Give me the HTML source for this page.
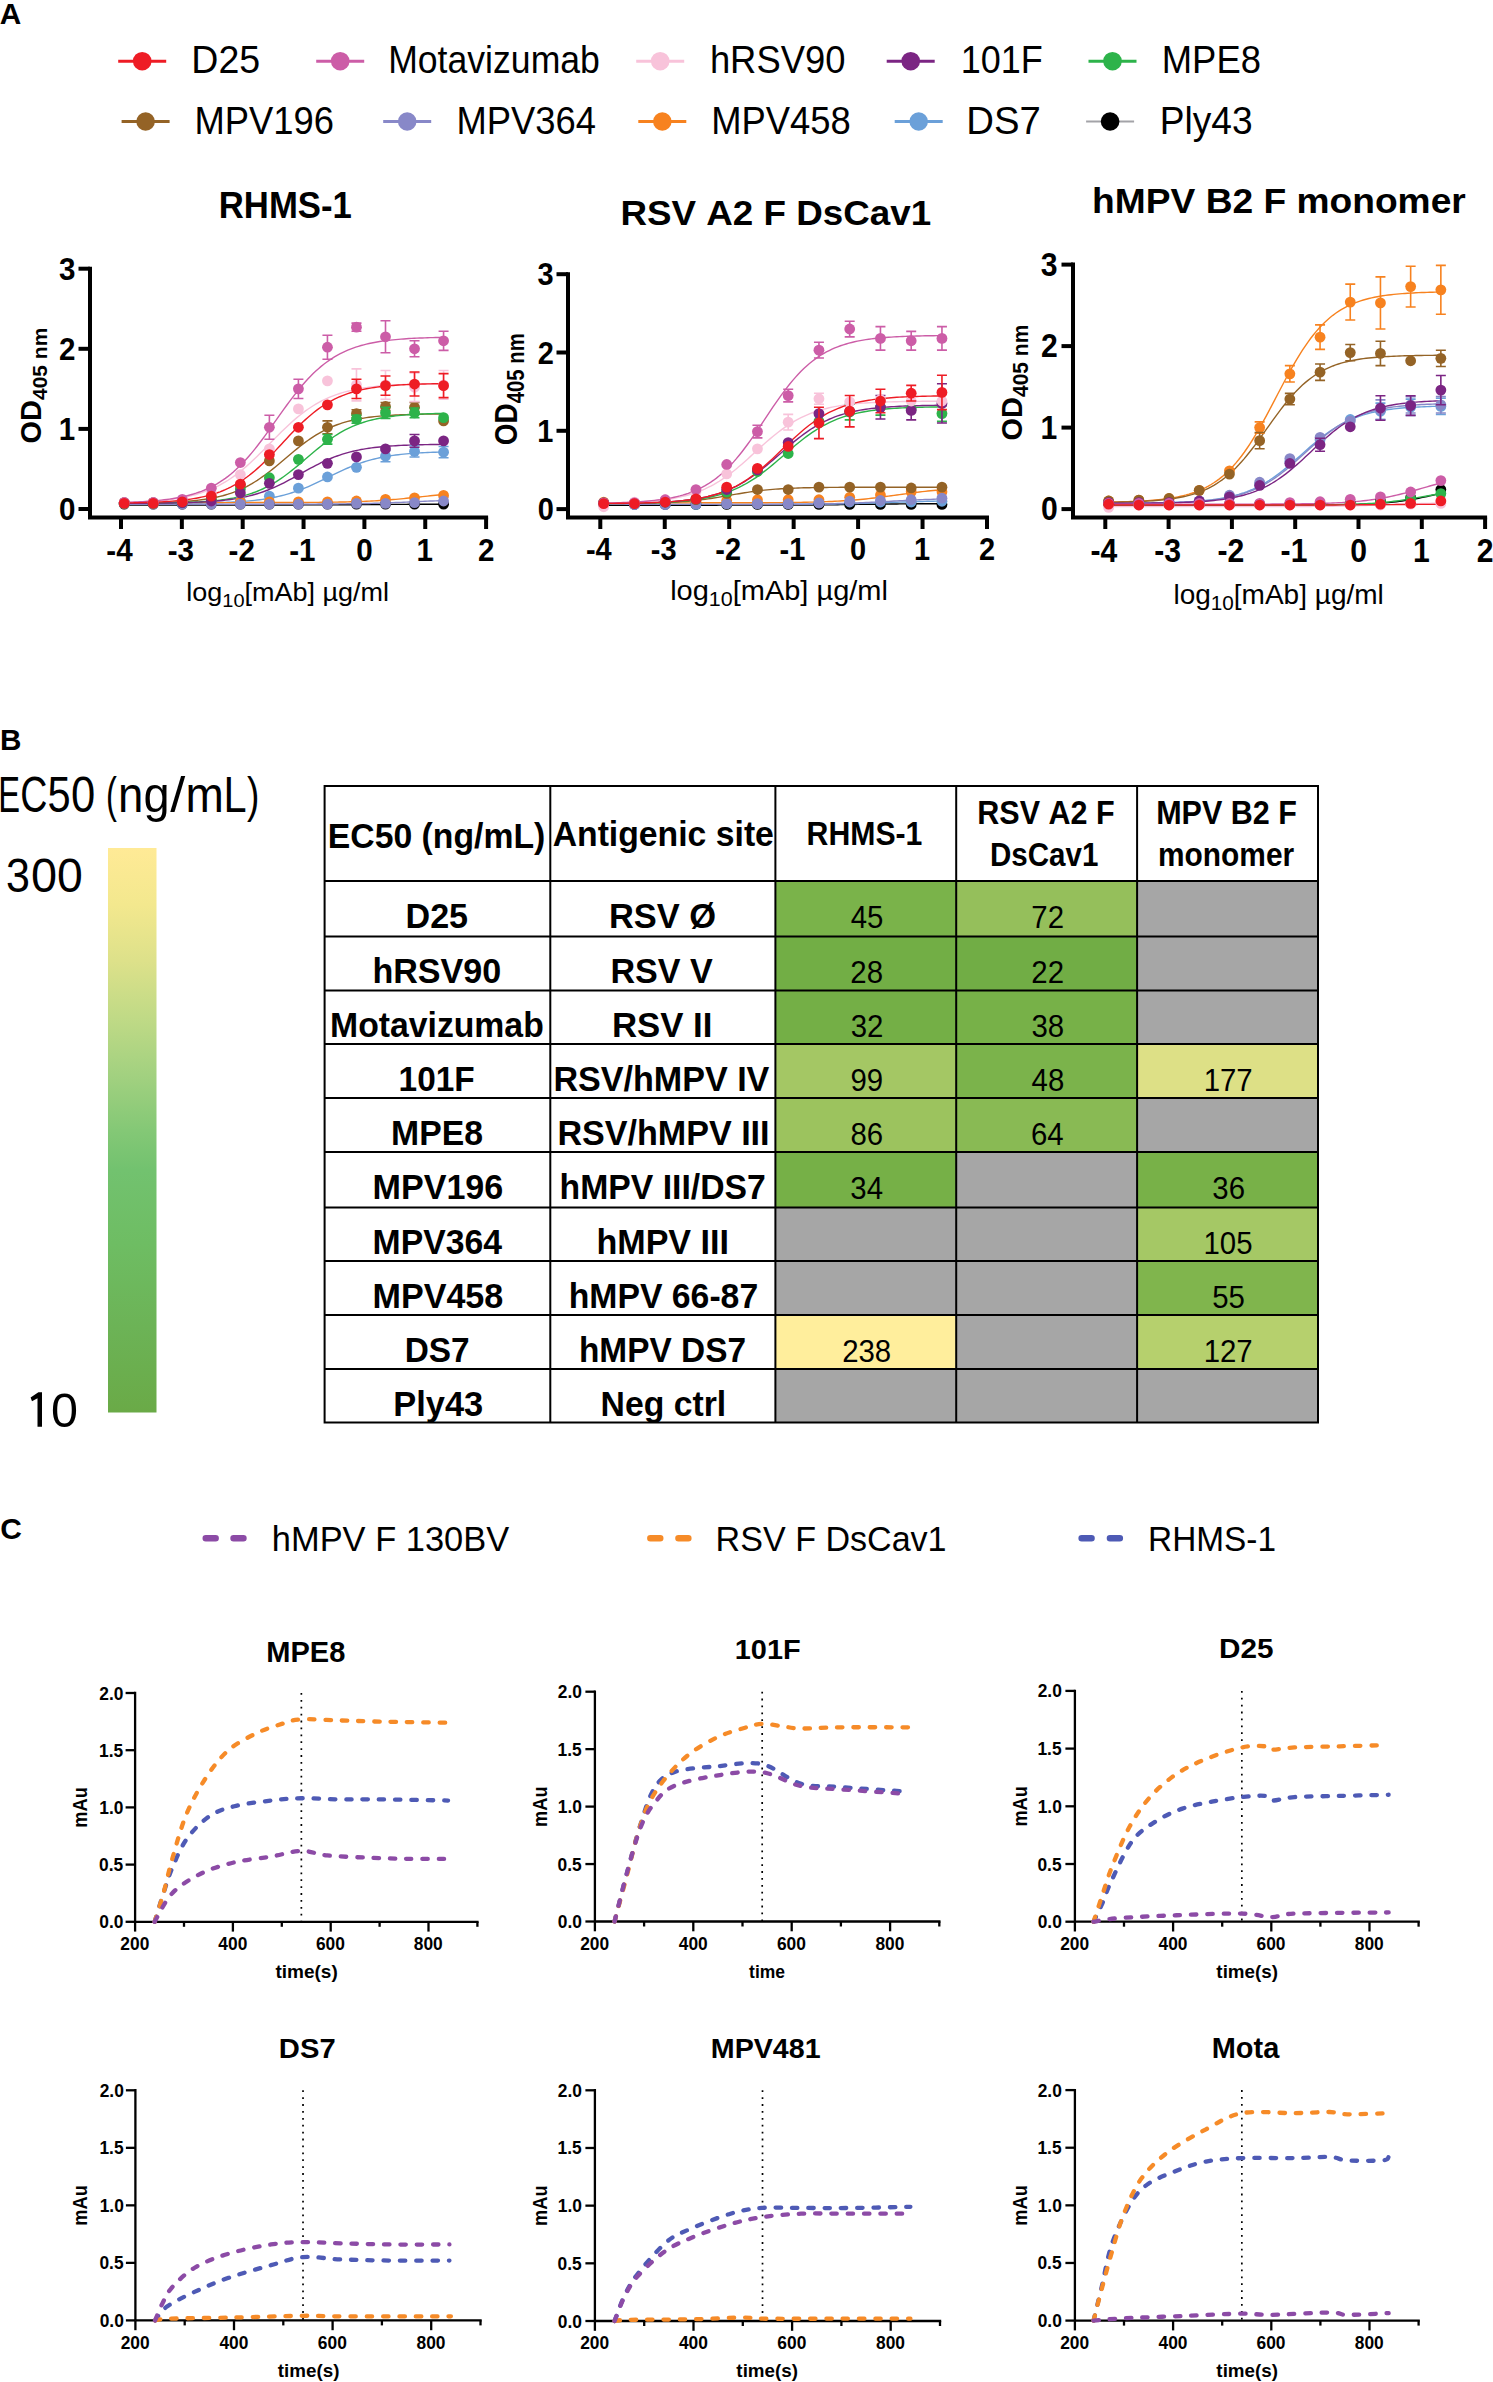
<!DOCTYPE html>
<html><head><meta charset="utf-8"><style>
html,body{margin:0;padding:0;background:#fff;overflow:hidden}
svg{display:block}
text{font-family:"Liberation Sans",sans-serif;font-kerning:none}
</style></head><body>
<svg width="1493" height="2382" viewBox="0 0 1493 2382">
<rect width="1493" height="2382" fill="#fff"/>
<text transform="translate(-0.24,24.1) scale(0.98,1)" font-size="30.38" font-weight="bold" fill="#000" >A</text>
<line x1="118.2" y1="61.2" x2="166.2" y2="61.2" stroke="#EE1C25" stroke-width="3" />
<circle cx="142.2" cy="61.2" r="9.3" fill="#EE1C25"/>
<text transform="translate(191.32,73.4) scale(0.98,1)" font-size="38.3" font-weight="normal" fill="#000">D25</text>
<line x1="316.2" y1="61.2" x2="364.2" y2="61.2" stroke="#CC5DA7" stroke-width="3" />
<circle cx="340.2" cy="61.2" r="9.3" fill="#CC5DA7"/>
<text transform="translate(388.16,73.4) scale(0.93,1)" font-size="38.3" font-weight="normal" fill="#000">Motavizumab</text>
<line x1="636.2" y1="61.2" x2="684.2" y2="61.2" stroke="#F8C3DA" stroke-width="3" />
<circle cx="660.2" cy="61.2" r="9.3" fill="#F8C3DA"/>
<text transform="translate(709.88,73.4) scale(0.95,1)" font-size="38.3" font-weight="normal" fill="#000">hRSV90</text>
<line x1="886.7" y1="61.2" x2="934.7" y2="61.2" stroke="#7B2583" stroke-width="3" />
<circle cx="910.7" cy="61.2" r="9.3" fill="#7B2583"/>
<text transform="translate(960.66,73.4) scale(0.94,1)" font-size="38.3" font-weight="normal" fill="#000">101F</text>
<line x1="1088.5" y1="61.2" x2="1136.5" y2="61.2" stroke="#2DB34A" stroke-width="3" />
<circle cx="1112.5" cy="61.2" r="9.3" fill="#2DB34A"/>
<text transform="translate(1161.82,73.4) scale(0.95,1)" font-size="38.3" font-weight="normal" fill="#000">MPE8</text>
<line x1="121.6" y1="121.5" x2="169.6" y2="121.5" stroke="#946326" stroke-width="3" />
<circle cx="145.6" cy="121.5" r="9.3" fill="#946326"/>
<text transform="translate(194.4,133.6) scale(0.95,1)" font-size="38.3" font-weight="normal" fill="#000">MPV196</text>
<line x1="383.2" y1="121.5" x2="431.2" y2="121.5" stroke="#8888C8" stroke-width="3" />
<circle cx="407.2" cy="121.5" r="9.3" fill="#8888C8"/>
<text transform="translate(456.43,133.6) scale(0.95,1)" font-size="38.3" font-weight="normal" fill="#000">MPV364</text>
<line x1="638.3" y1="121.5" x2="686.3" y2="121.5" stroke="#F7821F" stroke-width="3" />
<circle cx="662.3" cy="121.5" r="9.3" fill="#F7821F"/>
<text transform="translate(711.3,133.6) scale(0.95,1)" font-size="38.3" font-weight="normal" fill="#000">MPV458</text>
<line x1="894.7" y1="121.5" x2="942.7" y2="121.5" stroke="#6BA0D9" stroke-width="3" />
<circle cx="918.7" cy="121.5" r="9.3" fill="#6BA0D9"/>
<text transform="translate(966.37,133.6) scale(1,1)" font-size="38.3" font-weight="normal" fill="#000">DS7</text>
<line x1="1086.1" y1="121.5" x2="1134.1" y2="121.5" stroke="#A3A3A8" stroke-width="2" />
<circle cx="1110.1" cy="121.5" r="9.3" fill="#000000"/>
<text transform="translate(1159.64,133.6) scale(0.97,1)" font-size="38.3" font-weight="normal" fill="#000">Ply43</text>
<text transform="translate(218.77,217.64) scale(0.95,1)" font-size="36.58" font-weight="bold" fill="#000" >RHMS-1</text>
<g>
<polyline points="124.23,504.99 126.89,504.99 129.55,504.99 132.21,504.99 134.87,504.99 137.53,504.99 140.19,504.99 142.85,504.99 145.51,504.99 148.18,504.99 150.84,504.99 153.5,504.99 156.16,504.99 158.82,504.99 161.48,504.99 164.14,504.99 166.8,504.99 169.46,504.99 172.13,504.99 174.79,504.99 177.45,504.99 180.11,504.99 182.77,504.99 185.43,504.99 188.09,504.99 190.75,504.99 193.42,504.99 196.08,504.99 198.74,504.99 201.4,504.99 204.06,504.99 206.72,504.99 209.38,504.99 212.04,504.99 214.7,504.99 217.37,504.99 220.03,504.99 222.69,504.99 225.35,504.99 228.01,504.99 230.67,504.99 233.33,504.99 235.99,504.99 238.66,504.99 241.32,504.99 243.98,504.99 246.64,504.99 249.3,504.98 251.96,504.98 254.62,504.98 257.28,504.98 259.94,504.98 262.61,504.98 265.27,504.98 267.93,504.97 270.59,504.97 273.25,504.97 275.91,504.97 278.57,504.97 281.23,504.96 283.9,504.96 286.56,504.95 289.22,504.95 291.88,504.95 294.54,504.94 297.2,504.94 299.86,504.93 302.52,504.92 305.18,504.92 307.85,504.91 310.51,504.9 313.17,504.89 315.83,504.89 318.49,504.88 321.15,504.86 323.81,504.85 326.47,504.84 329.14,504.83 331.8,504.81 334.46,504.8 337.12,504.78 339.78,504.77 342.44,504.75 345.1,504.73 347.76,504.72 350.42,504.7 353.09,504.68 355.75,504.66 358.41,504.64 361.07,504.62 363.73,504.6 366.39,504.58 369.05,504.56 371.71,504.54 374.38,504.52 377.04,504.5 379.7,504.48 382.36,504.46 385.02,504.45 387.68,504.43 390.34,504.41 393,504.4 395.66,504.38 398.33,504.37 400.99,504.35 403.65,504.34 406.31,504.33 408.97,504.32 411.63,504.31 414.29,504.3 416.95,504.29 419.62,504.28 422.28,504.27 424.94,504.27 427.6,504.26 430.26,504.26 432.92,504.25 435.58,504.24 438.24,504.24 440.9,504.24 443.57,504.23" fill="none" stroke="#000000" stroke-width="1.4" opacity="1"/>
<polyline points="124.23,503.37 126.89,503.37 129.55,503.36 132.21,503.36 134.87,503.36 137.53,503.35 140.19,503.35 142.85,503.35 145.51,503.34 148.18,503.34 150.84,503.33 153.5,503.32 156.16,503.31 158.82,503.31 161.48,503.3 164.14,503.29 166.8,503.28 169.46,503.26 172.13,503.25 174.79,503.23 177.45,503.22 180.11,503.2 182.77,503.18 185.43,503.16 188.09,503.13 190.75,503.1 193.42,503.07 196.08,503.04 198.74,503 201.4,502.96 204.06,502.92 206.72,502.87 209.38,502.81 212.04,502.75 214.7,502.68 217.37,502.61 220.03,502.53 222.69,502.44 225.35,502.34 228.01,502.23 230.67,502.11 233.33,501.98 235.99,501.83 238.66,501.67 241.32,501.5 243.98,501.3 246.64,501.09 249.3,500.86 251.96,500.61 254.62,500.33 257.28,500.03 259.94,499.7 262.61,499.33 265.27,498.94 267.93,498.51 270.59,498.05 273.25,497.55 275.91,497 278.57,496.42 281.23,495.79 283.9,495.11 286.56,494.38 289.22,493.61 291.88,492.78 294.54,491.91 297.2,490.98 299.86,490 302.52,488.98 305.18,487.9 307.85,486.79 310.51,485.63 313.17,484.43 315.83,483.2 318.49,481.94 321.15,480.66 323.81,479.36 326.47,478.06 329.14,476.75 331.8,475.44 334.46,474.14 337.12,472.86 339.78,471.6 342.44,470.37 345.1,469.17 347.76,468.01 350.42,466.89 353.09,465.81 355.75,464.78 358.41,463.8 361.07,462.87 363.73,461.99 366.39,461.17 369.05,460.39 371.71,459.66 374.38,458.98 377.04,458.34 379.7,457.75 382.36,457.21 385.02,456.7 387.68,456.24 390.34,455.81 393,455.41 395.66,455.05 398.33,454.71 400.99,454.41 403.65,454.13 406.31,453.88 408.97,453.64 411.63,453.43 414.29,453.24 416.95,453.06 419.62,452.9 422.28,452.75 424.94,452.62 427.6,452.5 430.26,452.39 432.92,452.29 435.58,452.2 438.24,452.12 440.9,452.04 443.57,451.97" fill="none" stroke="#6BA0D9" stroke-width="1.4" opacity="1"/>
<polyline points="124.23,502.59 126.89,502.59 129.55,502.59 132.21,502.59 134.87,502.59 137.53,502.59 140.19,502.59 142.85,502.59 145.51,502.59 148.18,502.59 150.84,502.59 153.5,502.59 156.16,502.59 158.82,502.59 161.48,502.59 164.14,502.59 166.8,502.59 169.46,502.59 172.13,502.59 174.79,502.59 177.45,502.59 180.11,502.59 182.77,502.59 185.43,502.59 188.09,502.59 190.75,502.59 193.42,502.59 196.08,502.59 198.74,502.59 201.4,502.59 204.06,502.59 206.72,502.59 209.38,502.59 212.04,502.59 214.7,502.59 217.37,502.59 220.03,502.59 222.69,502.59 225.35,502.58 228.01,502.58 230.67,502.58 233.33,502.58 235.99,502.58 238.66,502.58 241.32,502.58 243.98,502.58 246.64,502.58 249.3,502.57 251.96,502.57 254.62,502.57 257.28,502.57 259.94,502.56 262.61,502.56 265.27,502.56 267.93,502.56 270.59,502.55 273.25,502.55 275.91,502.54 278.57,502.54 281.23,502.53 283.9,502.53 286.56,502.52 289.22,502.51 291.88,502.5 294.54,502.49 297.2,502.48 299.86,502.47 302.52,502.46 305.18,502.44 307.85,502.43 310.51,502.41 313.17,502.39 315.83,502.37 318.49,502.35 321.15,502.32 323.81,502.3 326.47,502.27 329.14,502.23 331.8,502.2 334.46,502.16 337.12,502.11 339.78,502.06 342.44,502.01 345.1,501.95 347.76,501.89 350.42,501.82 353.09,501.74 355.75,501.66 358.41,501.57 361.07,501.47 363.73,501.37 366.39,501.25 369.05,501.13 371.71,501 374.38,500.85 377.04,500.7 379.7,500.54 382.36,500.36 385.02,500.18 387.68,499.98 390.34,499.77 393,499.55 395.66,499.33 398.33,499.09 400.99,498.84 403.65,498.59 406.31,498.32 408.97,498.05 411.63,497.78 414.29,497.5 416.95,497.22 419.62,496.94 422.28,496.66 424.94,496.38 427.6,496.1 430.26,495.82 432.92,495.56 435.58,495.3 438.24,495.04 440.9,494.8 443.57,494.57" fill="none" stroke="#F7821F" stroke-width="1.4" opacity="1"/>
<polyline points="124.23,504.19 126.89,504.19 129.55,504.19 132.21,504.19 134.87,504.19 137.53,504.19 140.19,504.19 142.85,504.19 145.51,504.19 148.18,504.19 150.84,504.19 153.5,504.19 156.16,504.19 158.82,504.19 161.48,504.19 164.14,504.19 166.8,504.19 169.46,504.19 172.13,504.19 174.79,504.19 177.45,504.19 180.11,504.19 182.77,504.19 185.43,504.19 188.09,504.19 190.75,504.19 193.42,504.19 196.08,504.19 198.74,504.19 201.4,504.19 204.06,504.19 206.72,504.19 209.38,504.19 212.04,504.19 214.7,504.19 217.37,504.19 220.03,504.19 222.69,504.19 225.35,504.19 228.01,504.19 230.67,504.19 233.33,504.19 235.99,504.19 238.66,504.19 241.32,504.19 243.98,504.19 246.64,504.19 249.3,504.18 251.96,504.18 254.62,504.18 257.28,504.18 259.94,504.18 262.61,504.18 265.27,504.18 267.93,504.17 270.59,504.17 273.25,504.17 275.91,504.17 278.57,504.16 281.23,504.16 283.9,504.16 286.56,504.15 289.22,504.15 291.88,504.15 294.54,504.14 297.2,504.13 299.86,504.13 302.52,504.12 305.18,504.11 307.85,504.11 310.51,504.1 313.17,504.09 315.83,504.08 318.49,504.06 321.15,504.05 323.81,504.04 326.47,504.02 329.14,504 331.8,503.98 334.46,503.96 337.12,503.94 339.78,503.91 342.44,503.88 345.1,503.85 347.76,503.82 350.42,503.78 353.09,503.74 355.75,503.7 358.41,503.65 361.07,503.6 363.73,503.55 366.39,503.49 369.05,503.43 371.71,503.36 374.38,503.29 377.04,503.22 379.7,503.13 382.36,503.05 385.02,502.96 387.68,502.86 390.34,502.77 393,502.66 395.66,502.56 398.33,502.44 400.99,502.33 403.65,502.22 406.31,502.1 408.97,501.98 411.63,501.86 414.29,501.74 416.95,501.62 419.62,501.5 422.28,501.38 424.94,501.26 427.6,501.15 430.26,501.04 432.92,500.93 435.58,500.83 438.24,500.73 440.9,500.63 443.57,500.54" fill="none" stroke="#8888C8" stroke-width="1.4" opacity="1"/>
<polyline points="124.23,503.19 126.89,503.17 129.55,503.15 132.21,503.12 134.87,503.09 137.53,503.06 140.19,503.02 142.85,502.99 145.51,502.94 148.18,502.9 150.84,502.84 153.5,502.78 156.16,502.72 158.82,502.65 161.48,502.57 164.14,502.49 166.8,502.39 169.46,502.29 172.13,502.17 174.79,502.04 177.45,501.9 180.11,501.75 182.77,501.58 185.43,501.39 188.09,501.18 190.75,500.95 193.42,500.7 196.08,500.43 198.74,500.13 201.4,499.79 204.06,499.43 206.72,499.03 209.38,498.59 212.04,498.11 214.7,497.59 217.37,497.02 220.03,496.39 222.69,495.72 225.35,494.98 228.01,494.18 230.67,493.31 233.33,492.38 235.99,491.37 238.66,490.28 241.32,489.11 243.98,487.86 246.64,486.52 249.3,485.1 251.96,483.59 254.62,481.99 257.28,480.31 259.94,478.54 262.61,476.69 265.27,474.76 267.93,472.77 270.59,470.7 273.25,468.59 275.91,466.42 278.57,464.21 281.23,461.98 283.9,459.72 286.56,457.47 289.22,455.21 291.88,452.98 294.54,450.77 297.2,448.6 299.86,446.48 302.52,444.41 305.18,442.41 307.85,440.48 310.51,438.63 313.17,436.86 315.83,435.17 318.49,433.56 321.15,432.05 323.81,430.62 326.47,429.28 329.14,428.03 331.8,426.85 334.46,425.76 337.12,424.75 339.78,423.81 342.44,422.94 345.1,422.13 347.76,421.39 350.42,420.71 353.09,420.09 355.75,419.51 358.41,418.99 361.07,418.51 363.73,418.07 366.39,417.67 369.05,417.3 371.71,416.97 374.38,416.66 377.04,416.38 379.7,416.13 382.36,415.9 385.02,415.7 387.68,415.51 390.34,415.33 393,415.18 395.66,415.04 398.33,414.91 400.99,414.79 403.65,414.69 406.31,414.59 408.97,414.51 411.63,414.43 414.29,414.36 416.95,414.29 419.62,414.23 422.28,414.18 424.94,414.13 427.6,414.09 430.26,414.05 432.92,414.02 435.58,413.98 438.24,413.96 440.9,413.93 443.57,413.91" fill="none" stroke="#946326" stroke-width="1.4" opacity="1"/>
<polyline points="124.23,503.3 126.89,503.29 129.55,503.28 132.21,503.27 134.87,503.26 137.53,503.24 140.19,503.23 142.85,503.21 145.51,503.19 148.18,503.17 150.84,503.14 153.5,503.12 156.16,503.09 158.82,503.06 161.48,503.02 164.14,502.98 166.8,502.94 169.46,502.89 172.13,502.84 174.79,502.78 177.45,502.72 180.11,502.64 182.77,502.57 185.43,502.48 188.09,502.38 190.75,502.28 193.42,502.16 196.08,502.03 198.74,501.89 201.4,501.73 204.06,501.56 206.72,501.37 209.38,501.16 212.04,500.93 214.7,500.68 217.37,500.4 220.03,500.1 222.69,499.76 225.35,499.39 228.01,498.99 230.67,498.55 233.33,498.07 235.99,497.54 238.66,496.96 241.32,496.33 243.98,495.65 246.64,494.91 249.3,494.1 251.96,493.23 254.62,492.28 257.28,491.26 259.94,490.16 262.61,488.99 265.27,487.72 267.93,486.38 270.59,484.94 273.25,483.42 275.91,481.81 278.57,480.11 281.23,478.32 283.9,476.46 286.56,474.52 289.22,472.5 291.88,470.42 294.54,468.28 297.2,466.09 299.86,463.87 302.52,461.61 305.18,459.34 307.85,457.06 310.51,454.79 313.17,452.53 315.83,450.31 318.49,448.12 321.15,445.98 323.81,443.89 326.47,441.87 329.14,439.93 331.8,438.05 334.46,436.27 337.12,434.56 339.78,432.95 342.44,431.42 345.1,429.98 347.76,428.62 350.42,427.36 353.09,426.17 355.75,425.07 358.41,424.05 361.07,423.1 363.73,422.22 366.39,421.41 369.05,420.66 371.71,419.98 374.38,419.35 377.04,418.77 379.7,418.24 382.36,417.75 385.02,417.31 387.68,416.9 390.34,416.53 393,416.19 395.66,415.89 398.33,415.61 400.99,415.35 403.65,415.12 406.31,414.91 408.97,414.72 411.63,414.55 414.29,414.39 416.95,414.25 419.62,414.12 422.28,414 424.94,413.9 427.6,413.8 430.26,413.71 432.92,413.63 435.58,413.56 438.24,413.5 440.9,413.44 443.57,413.38" fill="none" stroke="#2DB34A" stroke-width="1.4" opacity="1"/>
<polyline points="124.23,503.32 126.89,503.31 129.55,503.3 132.21,503.29 134.87,503.28 137.53,503.27 140.19,503.26 142.85,503.24 145.51,503.23 148.18,503.21 150.84,503.19 153.5,503.17 156.16,503.14 158.82,503.12 161.48,503.09 164.14,503.05 166.8,503.02 169.46,502.98 172.13,502.94 174.79,502.89 177.45,502.84 180.11,502.78 182.77,502.71 185.43,502.64 188.09,502.56 190.75,502.48 193.42,502.38 196.08,502.28 198.74,502.16 201.4,502.03 204.06,501.89 206.72,501.74 209.38,501.57 212.04,501.38 214.7,501.17 217.37,500.95 220.03,500.7 222.69,500.43 225.35,500.13 228.01,499.81 230.67,499.45 233.33,499.07 235.99,498.65 238.66,498.19 241.32,497.69 243.98,497.15 246.64,496.56 249.3,495.93 251.96,495.25 254.62,494.51 257.28,493.73 259.94,492.89 262.61,491.99 265.27,491.03 267.93,490.02 270.59,488.94 273.25,487.82 275.91,486.63 278.57,485.39 281.23,484.11 283.9,482.78 286.56,481.4 289.22,479.99 291.88,478.55 294.54,477.09 297.2,475.61 299.86,474.12 302.52,472.63 305.18,471.14 307.85,469.67 310.51,468.21 313.17,466.79 315.83,465.4 318.49,464.04 321.15,462.73 323.81,461.47 326.47,460.26 329.14,459.11 331.8,458.01 334.46,456.97 337.12,455.98 339.78,455.06 342.44,454.19 345.1,453.37 347.76,452.61 350.42,451.91 353.09,451.25 355.75,450.64 358.41,450.08 361.07,449.56 363.73,449.08 366.39,448.64 369.05,448.24 371.71,447.87 374.38,447.53 377.04,447.22 379.7,446.94 382.36,446.68 385.02,446.45 387.68,446.23 390.34,446.03 393,445.86 395.66,445.69 398.33,445.55 400.99,445.41 403.65,445.29 406.31,445.18 408.97,445.08 411.63,444.99 414.29,444.91 416.95,444.83 419.62,444.77 422.28,444.7 424.94,444.65 427.6,444.6 430.26,444.55 432.92,444.51 435.58,444.47 438.24,444.44 440.9,444.41 443.57,444.38" fill="none" stroke="#7B2583" stroke-width="1.4" opacity="1"/>
<polyline points="124.23,502.56 126.89,502.48 129.55,502.4 132.21,502.31 134.87,502.2 137.53,502.09 140.19,501.97 142.85,501.84 145.51,501.69 148.18,501.53 150.84,501.36 153.5,501.17 156.16,500.96 158.82,500.74 161.48,500.49 164.14,500.22 166.8,499.93 169.46,499.61 172.13,499.27 174.79,498.89 177.45,498.48 180.11,498.03 182.77,497.55 185.43,497.02 188.09,496.46 190.75,495.84 193.42,495.17 196.08,494.45 198.74,493.67 201.4,492.83 204.06,491.92 206.72,490.95 209.38,489.9 212.04,488.77 214.7,487.57 217.37,486.28 220.03,484.91 222.69,483.45 225.35,481.89 228.01,480.24 230.67,478.5 233.33,476.67 235.99,474.74 238.66,472.71 241.32,470.6 243.98,468.39 246.64,466.1 249.3,463.73 251.96,461.29 254.62,458.78 257.28,456.21 259.94,453.59 262.61,450.93 265.27,448.23 267.93,445.52 270.59,442.8 273.25,440.08 275.91,437.37 278.57,434.69 281.23,432.05 283.9,429.44 286.56,426.89 289.22,424.41 291.88,421.99 294.54,419.65 297.2,417.39 299.86,415.22 302.52,413.14 305.18,411.15 307.85,409.26 310.51,407.46 313.17,405.75 315.83,404.14 318.49,402.62 321.15,401.19 323.81,399.85 326.47,398.6 329.14,397.43 331.8,396.33 334.46,395.31 337.12,394.36 339.78,393.48 342.44,392.66 345.1,391.91 347.76,391.2 350.42,390.56 353.09,389.96 355.75,389.41 358.41,388.9 361.07,388.43 363.73,388 366.39,387.6 369.05,387.24 371.71,386.9 374.38,386.59 377.04,386.31 379.7,386.05 382.36,385.81 385.02,385.59 387.68,385.39 390.34,385.21 393,385.04 395.66,384.89 398.33,384.75 400.99,384.62 403.65,384.5 406.31,384.39 408.97,384.29 411.63,384.2 414.29,384.12 416.95,384.05 419.62,383.98 422.28,383.91 424.94,383.86 427.6,383.8 430.26,383.75 432.92,383.71 435.58,383.67 438.24,383.63 440.9,383.6 443.57,383.57" fill="none" stroke="#F8C3DA" stroke-width="1.4" opacity="1"/>
<polyline points="124.23,502.46 126.89,502.37 129.55,502.27 132.21,502.16 134.87,502.05 137.53,501.92 140.19,501.78 142.85,501.63 145.51,501.47 148.18,501.29 150.84,501.09 153.5,500.88 156.16,500.64 158.82,500.39 161.48,500.11 164.14,499.8 166.8,499.47 169.46,499.11 172.13,498.71 174.79,498.28 177.45,497.81 180.11,497.3 182.77,496.75 185.43,496.14 188.09,495.49 190.75,494.78 193.42,494.01 196.08,493.17 198.74,492.26 201.4,491.29 204.06,490.23 206.72,489.09 209.38,487.85 212.04,486.53 214.7,485.11 217.37,483.58 220.03,481.94 222.69,480.19 225.35,478.32 228.01,476.33 230.67,474.21 233.33,471.96 235.99,469.59 238.66,467.08 241.32,464.44 243.98,461.67 246.64,458.77 249.3,455.75 251.96,452.6 254.62,449.35 257.28,445.99 259.94,442.53 262.61,438.99 265.27,435.38 267.93,431.7 270.59,427.98 273.25,424.22 275.91,420.45 278.57,416.68 281.23,412.92 283.9,409.19 286.56,405.5 289.22,401.88 291.88,398.32 294.54,394.85 297.2,391.47 299.86,388.19 302.52,385.03 305.18,381.98 307.85,379.06 310.51,376.26 313.17,373.6 315.83,371.06 318.49,368.66 321.15,366.39 323.81,364.25 326.47,362.23 329.14,360.34 331.8,358.57 334.46,356.91 337.12,355.36 339.78,353.91 342.44,352.57 345.1,351.32 347.76,350.16 350.42,349.09 353.09,348.1 355.75,347.18 358.41,346.33 361.07,345.54 363.73,344.82 366.39,344.16 369.05,343.54 371.71,342.98 374.38,342.46 377.04,341.99 379.7,341.55 382.36,341.15 385.02,340.78 387.68,340.44 390.34,340.13 393,339.84 395.66,339.58 398.33,339.34 400.99,339.13 403.65,338.93 406.31,338.74 408.97,338.57 411.63,338.42 414.29,338.28 416.95,338.15 419.62,338.03 422.28,337.93 424.94,337.83 427.6,337.74 430.26,337.66 432.92,337.58 435.58,337.51 438.24,337.45 440.9,337.39 443.57,337.34" fill="none" stroke="#CC5DA7" stroke-width="1.4" opacity="1"/>
<polyline points="124.23,502.98 126.89,502.94 129.55,502.9 132.21,502.85 134.87,502.8 137.53,502.74 140.19,502.67 142.85,502.6 145.51,502.52 148.18,502.43 150.84,502.34 153.5,502.23 156.16,502.12 158.82,501.99 161.48,501.85 164.14,501.7 166.8,501.53 169.46,501.34 172.13,501.14 174.79,500.92 177.45,500.68 180.11,500.41 182.77,500.12 185.43,499.8 188.09,499.46 190.75,499.07 193.42,498.66 196.08,498.2 198.74,497.71 201.4,497.17 204.06,496.58 206.72,495.93 209.38,495.24 212.04,494.48 214.7,493.66 217.37,492.76 220.03,491.8 222.69,490.76 225.35,489.64 228.01,488.43 230.67,487.13 233.33,485.73 235.99,484.24 238.66,482.65 241.32,480.96 243.98,479.16 246.64,477.26 249.3,475.25 251.96,473.14 254.62,470.92 257.28,468.6 259.94,466.19 262.61,463.69 265.27,461.11 267.93,458.45 270.59,455.73 273.25,452.95 275.91,450.14 278.57,447.29 281.23,444.42 283.9,441.54 286.56,438.68 289.22,435.84 291.88,433.03 294.54,430.26 297.2,427.55 299.86,424.91 302.52,422.35 305.18,419.87 307.85,417.48 310.51,415.19 313.17,412.99 315.83,410.9 318.49,408.92 321.15,407.04 323.81,405.27 326.47,403.6 329.14,402.03 331.8,400.57 334.46,399.2 337.12,397.92 339.78,396.73 342.44,395.63 345.1,394.6 347.76,393.66 350.42,392.78 353.09,391.97 355.75,391.23 358.41,390.55 361.07,389.92 363.73,389.34 366.39,388.81 369.05,388.32 371.71,387.88 374.38,387.47 377.04,387.1 379.7,386.75 382.36,386.44 385.02,386.16 387.68,385.9 390.34,385.66 393,385.44 395.66,385.25 398.33,385.07 400.99,384.9 403.65,384.75 406.31,384.62 408.97,384.49 411.63,384.38 414.29,384.28 416.95,384.18 419.62,384.1 422.28,384.02 424.94,383.95 427.6,383.89 430.26,383.83 432.92,383.77 435.58,383.73 438.24,383.68 440.9,383.64 443.57,383.61" fill="none" stroke="#EE1C25" stroke-width="1.4" opacity="1"/>
<circle cx="124.22" cy="504.19" r="5.4" fill="#000000"/>
<circle cx="153.25" cy="504.19" r="5.4" fill="#000000"/>
<circle cx="182.28" cy="504.19" r="5.4" fill="#000000"/>
<circle cx="211.31" cy="504.19" r="5.4" fill="#000000"/>
<circle cx="240.35" cy="504.19" r="5.4" fill="#000000"/>
<circle cx="269.38" cy="504.19" r="5.4" fill="#000000"/>
<circle cx="298.41" cy="504.19" r="5.4" fill="#000000"/>
<circle cx="327.44" cy="504.19" r="5.4" fill="#000000"/>
<circle cx="356.47" cy="504.19" r="5.4" fill="#000000"/>
<circle cx="385.5" cy="504.19" r="5.4" fill="#000000"/>
<circle cx="414.53" cy="504.19" r="5.4" fill="#000000"/>
<circle cx="443.57" cy="504.19" r="5.4" fill="#000000"/>
<circle cx="124.22" cy="503.39" r="5.4" fill="#6BA0D9"/>
<circle cx="153.25" cy="503.39" r="5.4" fill="#6BA0D9"/>
<circle cx="182.28" cy="503.39" r="5.4" fill="#6BA0D9"/>
<circle cx="211.31" cy="502.59" r="5.4" fill="#6BA0D9"/>
<circle cx="240.35" cy="500.99" r="5.4" fill="#6BA0D9"/>
<circle cx="269.38" cy="496.18" r="5.4" fill="#6BA0D9"/>
<circle cx="298.41" cy="488.17" r="5.4" fill="#6BA0D9"/>
<circle cx="327.44" cy="476.96" r="5.4" fill="#6BA0D9"/>
<circle cx="356.47" cy="467.35" r="5.4" fill="#6BA0D9"/>
<path d="M385.5,450.53V461.74M380.5,450.53H390.5M380.5,461.74H390.5" stroke="#6BA0D9" stroke-width="1.6" fill="none"/>
<circle cx="385.5" cy="456.13" r="5.4" fill="#6BA0D9"/>
<path d="M414.53,445.72V456.94M409.53,445.72H419.53M409.53,456.94H419.53" stroke="#6BA0D9" stroke-width="1.6" fill="none"/>
<circle cx="414.53" cy="451.33" r="5.4" fill="#6BA0D9"/>
<path d="M443.57,446.52V457.74M438.57,446.52H448.57M438.57,457.74H448.57" stroke="#6BA0D9" stroke-width="1.6" fill="none"/>
<circle cx="443.57" cy="452.13" r="5.4" fill="#6BA0D9"/>
<circle cx="124.22" cy="502.59" r="5.4" fill="#F7821F"/>
<circle cx="153.25" cy="502.59" r="5.4" fill="#F7821F"/>
<circle cx="182.28" cy="501.79" r="5.4" fill="#F7821F"/>
<circle cx="211.31" cy="501.79" r="5.4" fill="#F7821F"/>
<circle cx="240.35" cy="501.79" r="5.4" fill="#F7821F"/>
<circle cx="269.38" cy="501.79" r="5.4" fill="#F7821F"/>
<circle cx="298.41" cy="501.79" r="5.4" fill="#F7821F"/>
<circle cx="327.44" cy="501.79" r="5.4" fill="#F7821F"/>
<circle cx="356.47" cy="500.99" r="5.4" fill="#F7821F"/>
<circle cx="385.5" cy="499.39" r="5.4" fill="#F7821F"/>
<circle cx="414.53" cy="497.79" r="5.4" fill="#F7821F"/>
<circle cx="443.57" cy="495.38" r="5.4" fill="#F7821F"/>
<circle cx="124.22" cy="503.39" r="5.4" fill="#8888C8"/>
<circle cx="153.25" cy="504.19" r="5.4" fill="#8888C8"/>
<circle cx="182.28" cy="504.19" r="5.4" fill="#8888C8"/>
<circle cx="211.31" cy="504.19" r="5.4" fill="#8888C8"/>
<circle cx="240.35" cy="504.19" r="5.4" fill="#8888C8"/>
<circle cx="269.38" cy="504.19" r="5.4" fill="#8888C8"/>
<circle cx="298.41" cy="504.19" r="5.4" fill="#8888C8"/>
<circle cx="327.44" cy="504.19" r="5.4" fill="#8888C8"/>
<circle cx="356.47" cy="503.39" r="5.4" fill="#8888C8"/>
<circle cx="385.5" cy="503.39" r="5.4" fill="#8888C8"/>
<circle cx="414.53" cy="502.59" r="5.4" fill="#8888C8"/>
<circle cx="443.57" cy="500.99" r="5.4" fill="#8888C8"/>
<circle cx="124.22" cy="502.59" r="5.4" fill="#946326"/>
<circle cx="153.25" cy="502.59" r="5.4" fill="#946326"/>
<circle cx="182.28" cy="501.79" r="5.4" fill="#946326"/>
<circle cx="211.31" cy="497.79" r="5.4" fill="#946326"/>
<circle cx="240.35" cy="484.97" r="5.4" fill="#946326"/>
<circle cx="269.38" cy="460.94" r="5.4" fill="#946326"/>
<circle cx="298.41" cy="440.92" r="5.4" fill="#946326"/>
<path d="M327.44,420.89V433.71M322.44,420.89H332.44M322.44,433.71H332.44" stroke="#946326" stroke-width="1.6" fill="none"/>
<circle cx="327.44" cy="427.3" r="5.4" fill="#946326"/>
<path d="M356.47,409.68V417.69M351.47,409.68H361.47M351.47,417.69H361.47" stroke="#946326" stroke-width="1.6" fill="none"/>
<circle cx="356.47" cy="413.68" r="5.4" fill="#946326"/>
<path d="M385.5,402.47V410.48M380.5,402.47H390.5M380.5,410.48H390.5" stroke="#946326" stroke-width="1.6" fill="none"/>
<circle cx="385.5" cy="406.47" r="5.4" fill="#946326"/>
<path d="M414.53,402.47V412.08M409.53,402.47H419.53M409.53,412.08H419.53" stroke="#946326" stroke-width="1.6" fill="none"/>
<circle cx="414.53" cy="407.27" r="5.4" fill="#946326"/>
<circle cx="443.57" cy="420.89" r="5.4" fill="#946326"/>
<circle cx="124.22" cy="503.39" r="5.4" fill="#2DB34A"/>
<circle cx="153.25" cy="503.39" r="5.4" fill="#2DB34A"/>
<circle cx="182.28" cy="502.59" r="5.4" fill="#2DB34A"/>
<circle cx="211.31" cy="499.39" r="5.4" fill="#2DB34A"/>
<circle cx="240.35" cy="488.98" r="5.4" fill="#2DB34A"/>
<circle cx="269.38" cy="477.76" r="5.4" fill="#2DB34A"/>
<circle cx="298.41" cy="459.34" r="5.4" fill="#2DB34A"/>
<path d="M327.44,434.51V444.12M322.44,434.51H332.44M322.44,444.12H332.44" stroke="#2DB34A" stroke-width="1.6" fill="none"/>
<circle cx="327.44" cy="439.31" r="5.4" fill="#2DB34A"/>
<path d="M356.47,415.28V423.29M351.47,415.28H361.47M351.47,423.29H361.47" stroke="#2DB34A" stroke-width="1.6" fill="none"/>
<circle cx="356.47" cy="419.29" r="5.4" fill="#2DB34A"/>
<path d="M385.5,407.27V418.49M380.5,407.27H390.5M380.5,418.49H390.5" stroke="#2DB34A" stroke-width="1.6" fill="none"/>
<circle cx="385.5" cy="412.88" r="5.4" fill="#2DB34A"/>
<path d="M414.53,408.07V417.69M409.53,408.07H419.53M409.53,417.69H419.53" stroke="#2DB34A" stroke-width="1.6" fill="none"/>
<circle cx="414.53" cy="412.88" r="5.4" fill="#2DB34A"/>
<circle cx="443.57" cy="417.69" r="5.4" fill="#2DB34A"/>
<circle cx="124.22" cy="502.59" r="5.4" fill="#7B2583"/>
<circle cx="153.25" cy="502.59" r="5.4" fill="#7B2583"/>
<circle cx="182.28" cy="502.59" r="5.4" fill="#7B2583"/>
<circle cx="211.31" cy="500.99" r="5.4" fill="#7B2583"/>
<circle cx="240.35" cy="492.98" r="5.4" fill="#7B2583"/>
<circle cx="269.38" cy="483.37" r="5.4" fill="#7B2583"/>
<circle cx="298.41" cy="474.56" r="5.4" fill="#7B2583"/>
<circle cx="327.44" cy="463.34" r="5.4" fill="#7B2583"/>
<circle cx="356.47" cy="456.94" r="5.4" fill="#7B2583"/>
<circle cx="385.5" cy="448.93" r="5.4" fill="#7B2583"/>
<path d="M414.53,434.51V447.32M409.53,434.51H419.53M409.53,447.32H419.53" stroke="#7B2583" stroke-width="1.6" fill="none"/>
<circle cx="414.53" cy="440.92" r="5.4" fill="#7B2583"/>
<circle cx="443.57" cy="440.92" r="5.4" fill="#7B2583"/>
<circle cx="124.22" cy="502.59" r="5.4" fill="#F8C3DA"/>
<circle cx="153.25" cy="502.59" r="5.4" fill="#F8C3DA"/>
<circle cx="182.28" cy="500.99" r="5.4" fill="#F8C3DA"/>
<circle cx="211.31" cy="492.98" r="5.4" fill="#F8C3DA"/>
<circle cx="240.35" cy="474.56" r="5.4" fill="#F8C3DA"/>
<circle cx="269.38" cy="448.93" r="5.4" fill="#F8C3DA"/>
<circle cx="298.41" cy="408.88" r="5.4" fill="#F8C3DA"/>
<circle cx="327.44" cy="380.84" r="5.4" fill="#F8C3DA"/>
<path d="M356.47,368.83V400.87M351.47,368.83H361.47M351.47,400.87H361.47" stroke="#F8C3DA" stroke-width="1.6" fill="none"/>
<circle cx="356.47" cy="384.85" r="5.4" fill="#F8C3DA"/>
<path d="M385.5,370.43V399.26M380.5,370.43H390.5M380.5,399.26H390.5" stroke="#F8C3DA" stroke-width="1.6" fill="none"/>
<circle cx="385.5" cy="384.85" r="5.4" fill="#F8C3DA"/>
<path d="M414.53,372.83V401.67M409.53,372.83H419.53M409.53,401.67H419.53" stroke="#F8C3DA" stroke-width="1.6" fill="none"/>
<circle cx="414.53" cy="387.25" r="5.4" fill="#F8C3DA"/>
<path d="M443.57,370.43V399.26M438.57,370.43H448.57M438.57,399.26H448.57" stroke="#F8C3DA" stroke-width="1.6" fill="none"/>
<circle cx="443.57" cy="384.85" r="5.4" fill="#F8C3DA"/>
<circle cx="124.22" cy="502.59" r="5.4" fill="#CC5DA7"/>
<circle cx="153.25" cy="502.59" r="5.4" fill="#CC5DA7"/>
<circle cx="182.28" cy="499.39" r="5.4" fill="#CC5DA7"/>
<circle cx="211.31" cy="488.17" r="5.4" fill="#CC5DA7"/>
<circle cx="240.35" cy="462.54" r="5.4" fill="#CC5DA7"/>
<path d="M269.38,415.28V439.31M264.38,415.28H274.38M264.38,439.31H274.38" stroke="#CC5DA7" stroke-width="1.6" fill="none"/>
<circle cx="269.38" cy="427.3" r="5.4" fill="#CC5DA7"/>
<path d="M298.41,379.24V398.46M293.41,379.24H303.41M293.41,398.46H303.41" stroke="#CC5DA7" stroke-width="1.6" fill="none"/>
<circle cx="298.41" cy="388.85" r="5.4" fill="#CC5DA7"/>
<path d="M327.44,335.18V359.21M322.44,335.18H332.44M322.44,359.21H332.44" stroke="#CC5DA7" stroke-width="1.6" fill="none"/>
<circle cx="327.44" cy="347.2" r="5.4" fill="#CC5DA7"/>
<path d="M356.47,323.17V331.18M351.47,323.17H361.47M351.47,331.18H361.47" stroke="#CC5DA7" stroke-width="1.6" fill="none"/>
<circle cx="356.47" cy="327.17" r="5.4" fill="#CC5DA7"/>
<path d="M385.5,320.77V352.81M380.5,320.77H390.5M380.5,352.81H390.5" stroke="#CC5DA7" stroke-width="1.6" fill="none"/>
<circle cx="385.5" cy="336.79" r="5.4" fill="#CC5DA7"/>
<path d="M414.53,340.79V356.81M409.53,340.79H419.53M409.53,356.81H419.53" stroke="#CC5DA7" stroke-width="1.6" fill="none"/>
<circle cx="414.53" cy="348.8" r="5.4" fill="#CC5DA7"/>
<path d="M443.57,331.18V350.4M438.57,331.18H448.57M438.57,350.4H448.57" stroke="#CC5DA7" stroke-width="1.6" fill="none"/>
<circle cx="443.57" cy="340.79" r="5.4" fill="#CC5DA7"/>
<circle cx="124.22" cy="503.39" r="5.4" fill="#EE1C25"/>
<circle cx="153.25" cy="503.39" r="5.4" fill="#EE1C25"/>
<circle cx="182.28" cy="501.79" r="5.4" fill="#EE1C25"/>
<circle cx="211.31" cy="496.18" r="5.4" fill="#EE1C25"/>
<circle cx="240.35" cy="484.17" r="5.4" fill="#EE1C25"/>
<circle cx="269.38" cy="454.53" r="5.4" fill="#EE1C25"/>
<circle cx="298.41" cy="427.3" r="5.4" fill="#EE1C25"/>
<circle cx="327.44" cy="404.87" r="5.4" fill="#EE1C25"/>
<path d="M356.47,379.24V398.46M351.47,379.24H361.47M351.47,398.46H361.47" stroke="#EE1C25" stroke-width="1.6" fill="none"/>
<circle cx="356.47" cy="388.85" r="5.4" fill="#EE1C25"/>
<path d="M385.5,376.03V395.26M380.5,376.03H390.5M380.5,395.26H390.5" stroke="#EE1C25" stroke-width="1.6" fill="none"/>
<circle cx="385.5" cy="385.65" r="5.4" fill="#EE1C25"/>
<path d="M414.53,372.03V396.06M409.53,372.03H419.53M409.53,396.06H419.53" stroke="#EE1C25" stroke-width="1.6" fill="none"/>
<circle cx="414.53" cy="384.04" r="5.4" fill="#EE1C25"/>
<path d="M443.57,373.63V397.66M438.57,373.63H448.57M438.57,397.66H448.57" stroke="#EE1C25" stroke-width="1.6" fill="none"/>
<circle cx="443.57" cy="385.65" r="5.4" fill="#EE1C25"/>
</g>
<path d="M90,266.7V519.5M88,517.5H488.1" stroke="#000" stroke-width="4" fill="none"/>
<line x1="78.5" y1="509" x2="90" y2="509" stroke="#000" stroke-width="4" />
<text transform="translate(59.04,520.2) scale(0.92,1)" font-size="32.2" font-weight="bold" fill="#000">0</text>
<line x1="78.5" y1="428.9" x2="90" y2="428.9" stroke="#000" stroke-width="4" />
<text transform="translate(58.65,440.1) scale(0.92,1)" font-size="32.2" font-weight="bold" fill="#000">1</text>
<line x1="78.5" y1="348.8" x2="90" y2="348.8" stroke="#000" stroke-width="4" />
<text transform="translate(59.01,360) scale(0.92,1)" font-size="32.2" font-weight="bold" fill="#000">2</text>
<line x1="78.5" y1="268.7" x2="90" y2="268.7" stroke="#000" stroke-width="4" />
<text transform="translate(58.89,279.9) scale(0.92,1)" font-size="32.2" font-weight="bold" fill="#000">3</text>
<line x1="121" y1="517.5" x2="121" y2="529" stroke="#000" stroke-width="4" />
<text transform="translate(106.33,561.3) scale(0.92,1)" font-size="32.2" font-weight="bold" fill="#000">-4</text>
<line x1="181.85" y1="517.5" x2="181.85" y2="529" stroke="#000" stroke-width="4" />
<text transform="translate(167.64,561.3) scale(0.92,1)" font-size="32.2" font-weight="bold" fill="#000">-3</text>
<line x1="242.7" y1="517.5" x2="242.7" y2="529" stroke="#000" stroke-width="4" />
<text transform="translate(228.54,561.3) scale(0.92,1)" font-size="32.2" font-weight="bold" fill="#000">-2</text>
<line x1="303.55" y1="517.5" x2="303.55" y2="529" stroke="#000" stroke-width="4" />
<text transform="translate(289.21,561.3) scale(0.92,1)" font-size="32.2" font-weight="bold" fill="#000">-1</text>
<line x1="364.4" y1="517.5" x2="364.4" y2="529" stroke="#000" stroke-width="4" />
<text transform="translate(356.18,561.3) scale(0.92,1)" font-size="32.2" font-weight="bold" fill="#000">0</text>
<line x1="425.25" y1="517.5" x2="425.25" y2="529" stroke="#000" stroke-width="4" />
<text transform="translate(416.49,561.3) scale(0.92,1)" font-size="32.2" font-weight="bold" fill="#000">1</text>
<line x1="486.1" y1="517.5" x2="486.1" y2="529" stroke="#000" stroke-width="4" />
<text transform="translate(477.94,561.3) scale(0.92,1)" font-size="32.2" font-weight="bold" fill="#000">2</text>
<g transform="translate(40.9,442.3) rotate(-90) scale(0.29,0.29) translate(-4.1,0)">
<text font-size="100" font-weight="bold">OD<tspan font-size="72.4" dy="21.0">405 nm</tspan></text></g>
<g transform="translate(188.1,601) scale(0.27,0.26) translate(-6.74,0)">
<text font-size="100">log<tspan font-size="74.0" dy="24">10</tspan><tspan dy="-24">[mAb] µg/ml</tspan></text></g>
<text transform="translate(620.45,224.96) scale(1.05,1)" font-size="35.03" font-weight="bold" fill="#000" >RSV A2 F DsCav1</text>
<g>
<polyline points="603.72,505.18 606.53,505.18 609.35,505.18 612.17,505.18 614.99,505.18 617.81,505.18 620.63,505.18 623.45,505.18 626.26,505.18 629.08,505.18 631.9,505.18 634.72,505.18 637.54,505.18 640.36,505.18 643.18,505.18 646,505.18 648.81,505.18 651.63,505.18 654.45,505.18 657.27,505.18 660.09,505.18 662.91,505.18 665.73,505.18 668.54,505.18 671.36,505.18 674.18,505.18 677,505.18 679.82,505.18 682.64,505.18 685.46,505.18 688.27,505.18 691.09,505.18 693.91,505.18 696.73,505.18 699.55,505.18 702.37,505.18 705.19,505.18 708,505.18 710.82,505.18 713.64,505.18 716.46,505.18 719.28,505.17 722.1,505.17 724.92,505.17 727.73,505.17 730.55,505.17 733.37,505.17 736.19,505.17 739.01,505.16 741.83,505.16 744.65,505.16 747.47,505.16 750.28,505.15 753.1,505.15 755.92,505.15 758.74,505.14 761.56,505.14 764.38,505.13 767.2,505.13 770.01,505.12 772.83,505.11 775.65,505.11 778.47,505.1 781.29,505.09 784.11,505.08 786.93,505.07 789.74,505.06 792.56,505.05 795.38,505.03 798.2,505.02 801.02,505 803.84,504.99 806.66,504.97 809.47,504.95 812.29,504.93 815.11,504.91 817.93,504.88 820.75,504.86 823.57,504.83 826.39,504.8 829.2,504.77 832.02,504.74 834.84,504.71 837.66,504.68 840.48,504.64 843.3,504.6 846.12,504.57 848.94,504.53 851.75,504.49 854.57,504.45 857.39,504.41 860.21,504.37 863.03,504.33 865.85,504.29 868.67,504.26 871.48,504.22 874.3,504.18 877.12,504.15 879.94,504.11 882.76,504.08 885.58,504.05 888.4,504.02 891.21,503.99 894.03,503.96 896.85,503.93 899.67,503.91 902.49,503.89 905.31,503.86 908.13,503.84 910.94,503.82 913.76,503.81 916.58,503.79 919.4,503.78 922.22,503.76 925.04,503.75 927.86,503.74 930.67,503.73 933.49,503.72 936.31,503.71 939.13,503.7 941.95,503.69" fill="none" stroke="#000000" stroke-width="1.4" opacity="1"/>
<polyline points="603.72,504.4 606.53,504.4 609.35,504.4 612.17,504.4 614.99,504.4 617.81,504.4 620.63,504.4 623.45,504.4 626.26,504.4 629.08,504.4 631.9,504.4 634.72,504.4 637.54,504.4 640.36,504.4 643.18,504.4 646,504.4 648.81,504.4 651.63,504.4 654.45,504.4 657.27,504.4 660.09,504.4 662.91,504.4 665.73,504.4 668.54,504.4 671.36,504.4 674.18,504.4 677,504.4 679.82,504.4 682.64,504.4 685.46,504.4 688.27,504.4 691.09,504.4 693.91,504.4 696.73,504.4 699.55,504.4 702.37,504.4 705.19,504.4 708,504.4 710.82,504.4 713.64,504.39 716.46,504.39 719.28,504.39 722.1,504.39 724.92,504.39 727.73,504.39 730.55,504.39 733.37,504.39 736.19,504.39 739.01,504.38 741.83,504.38 744.65,504.38 747.47,504.38 750.28,504.38 753.1,504.37 755.92,504.37 758.74,504.37 761.56,504.36 764.38,504.36 767.2,504.35 770.01,504.35 772.83,504.34 775.65,504.34 778.47,504.33 781.29,504.32 784.11,504.32 786.93,504.31 789.74,504.3 792.56,504.29 795.38,504.27 798.2,504.26 801.02,504.25 803.84,504.23 806.66,504.21 809.47,504.2 812.29,504.17 815.11,504.15 817.93,504.13 820.75,504.1 823.57,504.07 826.39,504.04 829.2,504.01 832.02,503.97 834.84,503.93 837.66,503.88 840.48,503.84 843.3,503.79 846.12,503.73 848.94,503.68 851.75,503.61 854.57,503.55 857.39,503.48 860.21,503.41 863.03,503.33 865.85,503.25 868.67,503.17 871.48,503.08 874.3,502.99 877.12,502.9 879.94,502.8 882.76,502.71 885.58,502.61 888.4,502.51 891.21,502.41 894.03,502.32 896.85,502.22 899.67,502.12 902.49,502.03 905.31,501.93 908.13,501.84 910.94,501.75 913.76,501.67 916.58,501.59 919.4,501.51 922.22,501.44 925.04,501.37 927.86,501.3 930.67,501.24 933.49,501.18 936.31,501.12 939.13,501.07 941.95,501.02" fill="none" stroke="#6BA0D9" stroke-width="1.4" opacity="1"/>
<polyline points="603.72,502.84 606.53,502.84 609.35,502.84 612.17,502.84 614.99,502.84 617.81,502.84 620.63,502.84 623.45,502.84 626.26,502.84 629.08,502.83 631.9,502.83 634.72,502.83 637.54,502.83 640.36,502.83 643.18,502.83 646,502.83 648.81,502.83 651.63,502.83 654.45,502.83 657.27,502.83 660.09,502.83 662.91,502.83 665.73,502.83 668.54,502.83 671.36,502.83 674.18,502.83 677,502.83 679.82,502.83 682.64,502.83 685.46,502.83 688.27,502.83 691.09,502.83 693.91,502.82 696.73,502.82 699.55,502.82 702.37,502.82 705.19,502.82 708,502.82 710.82,502.82 713.64,502.81 716.46,502.81 719.28,502.81 722.1,502.81 724.92,502.8 727.73,502.8 730.55,502.79 733.37,502.79 736.19,502.79 739.01,502.78 741.83,502.77 744.65,502.77 747.47,502.76 750.28,502.75 753.1,502.74 755.92,502.73 758.74,502.72 761.56,502.71 764.38,502.7 767.2,502.68 770.01,502.67 772.83,502.65 775.65,502.63 778.47,502.61 781.29,502.59 784.11,502.56 786.93,502.53 789.74,502.5 792.56,502.47 795.38,502.43 798.2,502.39 801.02,502.34 803.84,502.29 806.66,502.23 809.47,502.17 812.29,502.11 815.11,502.03 817.93,501.95 820.75,501.86 823.57,501.77 826.39,501.66 829.2,501.55 832.02,501.43 834.84,501.29 837.66,501.15 840.48,500.99 843.3,500.82 846.12,500.63 848.94,500.44 851.75,500.22 854.57,500 857.39,499.76 860.21,499.5 863.03,499.23 865.85,498.94 868.67,498.64 871.48,498.32 874.3,497.99 877.12,497.65 879.94,497.29 882.76,496.93 885.58,496.55 888.4,496.17 891.21,495.78 894.03,495.39 896.85,494.99 899.67,494.6 902.49,494.21 905.31,493.82 908.13,493.44 910.94,493.06 913.76,492.7 916.58,492.35 919.4,492 922.22,491.67 925.04,491.36 927.86,491.06 930.67,490.77 933.49,490.5 936.31,490.24 939.13,490 941.95,489.78" fill="none" stroke="#F7821F" stroke-width="1.4" opacity="1"/>
<polyline points="603.72,504.4 606.53,504.4 609.35,504.4 612.17,504.4 614.99,504.4 617.81,504.4 620.63,504.4 623.45,504.4 626.26,504.4 629.08,504.4 631.9,504.4 634.72,504.4 637.54,504.4 640.36,504.4 643.18,504.4 646,504.4 648.81,504.4 651.63,504.4 654.45,504.4 657.27,504.4 660.09,504.4 662.91,504.4 665.73,504.4 668.54,504.4 671.36,504.4 674.18,504.4 677,504.4 679.82,504.4 682.64,504.4 685.46,504.4 688.27,504.4 691.09,504.4 693.91,504.4 696.73,504.4 699.55,504.4 702.37,504.39 705.19,504.39 708,504.39 710.82,504.39 713.64,504.39 716.46,504.39 719.28,504.39 722.1,504.39 724.92,504.39 727.73,504.38 730.55,504.38 733.37,504.38 736.19,504.38 739.01,504.37 741.83,504.37 744.65,504.37 747.47,504.36 750.28,504.36 753.1,504.36 755.92,504.35 758.74,504.35 761.56,504.34 764.38,504.33 767.2,504.33 770.01,504.32 772.83,504.31 775.65,504.3 778.47,504.29 781.29,504.28 784.11,504.26 786.93,504.25 789.74,504.23 792.56,504.22 795.38,504.2 798.2,504.18 801.02,504.15 803.84,504.13 806.66,504.1 809.47,504.07 812.29,504.04 815.11,504 817.93,503.96 820.75,503.92 823.57,503.87 826.39,503.82 829.2,503.77 832.02,503.71 834.84,503.64 837.66,503.57 840.48,503.5 843.3,503.42 846.12,503.33 848.94,503.24 851.75,503.14 854.57,503.04 857.39,502.93 860.21,502.81 863.03,502.69 865.85,502.56 868.67,502.42 871.48,502.29 874.3,502.14 877.12,502 879.94,501.84 882.76,501.69 885.58,501.53 888.4,501.38 891.21,501.22 894.03,501.06 896.85,500.91 899.67,500.75 902.49,500.6 905.31,500.45 908.13,500.31 910.94,500.17 913.76,500.03 916.58,499.9 919.4,499.78 922.22,499.66 925.04,499.54 927.86,499.44 930.67,499.34 933.49,499.24 936.31,499.15 939.13,499.07 941.95,498.99" fill="none" stroke="#8888C8" stroke-width="1.4" opacity="1"/>
<polyline points="603.72,503.54 606.53,503.53 609.35,503.52 612.17,503.51 614.99,503.5 617.81,503.48 620.63,503.46 623.45,503.44 626.26,503.42 629.08,503.4 631.9,503.37 634.72,503.34 637.54,503.3 640.36,503.26 643.18,503.22 646,503.17 648.81,503.11 651.63,503.05 654.45,502.98 657.27,502.9 660.09,502.81 662.91,502.71 665.73,502.6 668.54,502.48 671.36,502.35 674.18,502.2 677,502.03 679.82,501.85 682.64,501.65 685.46,501.43 688.27,501.19 691.09,500.93 693.91,500.65 696.73,500.35 699.55,500.02 702.37,499.67 705.19,499.29 708,498.9 710.82,498.48 713.64,498.04 716.46,497.59 719.28,497.12 722.1,496.64 724.92,496.15 727.73,495.66 730.55,495.16 733.37,494.66 736.19,494.17 739.01,493.69 741.83,493.22 744.65,492.77 747.47,492.33 750.28,491.92 753.1,491.52 755.92,491.14 758.74,490.79 761.56,490.46 764.38,490.16 767.2,489.87 770.01,489.61 772.83,489.37 775.65,489.15 778.47,488.95 781.29,488.77 784.11,488.6 786.93,488.45 789.74,488.32 792.56,488.2 795.38,488.09 798.2,487.99 801.02,487.9 803.84,487.82 806.66,487.75 809.47,487.69 812.29,487.63 815.11,487.58 817.93,487.53 820.75,487.49 823.57,487.46 826.39,487.43 829.2,487.4 832.02,487.37 834.84,487.35 837.66,487.33 840.48,487.31 843.3,487.3 846.12,487.28 848.94,487.27 851.75,487.26 854.57,487.25 857.39,487.24 860.21,487.24 863.03,487.23 865.85,487.22 868.67,487.22 871.48,487.21 874.3,487.21 877.12,487.2 879.94,487.2 882.76,487.2 885.58,487.2 888.4,487.19 891.21,487.19 894.03,487.19 896.85,487.19 899.67,487.19 902.49,487.19 905.31,487.18 908.13,487.18 910.94,487.18 913.76,487.18 916.58,487.18 919.4,487.18 922.22,487.18 925.04,487.18 927.86,487.18 930.67,487.18 933.49,487.18 936.31,487.18 939.13,487.18 941.95,487.18" fill="none" stroke="#946326" stroke-width="1.4" opacity="1"/>
<polyline points="603.72,503.46 606.53,503.45 609.35,503.43 612.17,503.41 614.99,503.39 617.81,503.36 620.63,503.34 623.45,503.31 626.26,503.27 629.08,503.24 631.9,503.2 634.72,503.15 637.54,503.1 640.36,503.05 643.18,502.99 646,502.92 648.81,502.85 651.63,502.77 654.45,502.68 657.27,502.58 660.09,502.47 662.91,502.35 665.73,502.22 668.54,502.07 671.36,501.91 674.18,501.74 677,501.54 679.82,501.32 682.64,501.09 685.46,500.83 688.27,500.54 691.09,500.23 693.91,499.88 696.73,499.5 699.55,499.09 702.37,498.63 705.19,498.13 708,497.59 710.82,496.99 713.64,496.34 716.46,495.63 719.28,494.86 722.1,494.03 724.92,493.12 727.73,492.14 730.55,491.08 733.37,489.94 736.19,488.72 739.01,487.4 741.83,485.99 744.65,484.49 747.47,482.9 750.28,481.21 753.1,479.43 755.92,477.56 758.74,475.59 761.56,473.54 764.38,471.41 767.2,469.21 770.01,466.94 772.83,464.62 775.65,462.24 778.47,459.84 781.29,457.41 784.11,454.96 786.93,452.52 789.74,450.09 792.56,447.69 795.38,445.32 798.2,443 801.02,440.74 803.84,438.54 806.66,436.42 809.47,434.38 812.29,432.42 815.11,430.55 817.93,428.78 820.75,427.1 823.57,425.51 826.39,424.02 829.2,422.63 832.02,421.32 834.84,420.1 837.66,418.97 840.48,417.91 843.3,416.94 846.12,416.04 848.94,415.21 851.75,414.45 854.57,413.74 857.39,413.1 860.21,412.51 863.03,411.97 865.85,411.47 868.67,411.02 871.48,410.61 874.3,410.23 877.12,409.89 879.94,409.58 882.76,409.29 885.58,409.04 888.4,408.8 891.21,408.59 894.03,408.39 896.85,408.22 899.67,408.06 902.49,407.91 905.31,407.78 908.13,407.66 910.94,407.56 913.76,407.46 916.58,407.37 919.4,407.29 922.22,407.22 925.04,407.15 927.86,407.09 930.67,407.04 933.49,406.99 936.31,406.95 939.13,406.91 941.95,406.87" fill="none" stroke="#2DB34A" stroke-width="1.4" opacity="1"/>
<polyline points="603.72,503.43 606.53,503.41 609.35,503.39 612.17,503.37 614.99,503.34 617.81,503.31 620.63,503.28 623.45,503.25 626.26,503.21 629.08,503.16 631.9,503.12 634.72,503.06 637.54,503 640.36,502.94 643.18,502.87 646,502.79 648.81,502.7 651.63,502.6 654.45,502.5 657.27,502.38 660.09,502.25 662.91,502.11 665.73,501.95 668.54,501.78 671.36,501.59 674.18,501.38 677,501.15 679.82,500.89 682.64,500.61 685.46,500.3 688.27,499.97 691.09,499.59 693.91,499.19 696.73,498.74 699.55,498.25 702.37,497.72 705.19,497.13 708,496.5 710.82,495.8 713.64,495.04 716.46,494.22 719.28,493.33 722.1,492.36 724.92,491.32 727.73,490.2 730.55,488.98 733.37,487.68 736.19,486.29 739.01,484.81 741.83,483.23 744.65,481.55 747.47,479.77 750.28,477.91 753.1,475.95 755.92,473.9 758.74,471.77 761.56,469.56 764.38,467.28 767.2,464.94 770.01,462.54 772.83,460.11 775.65,457.65 778.47,455.17 781.29,452.69 784.11,450.21 786.93,447.76 789.74,445.34 792.56,442.96 795.38,440.64 798.2,438.38 801.02,436.19 803.84,434.08 806.66,432.06 809.47,430.12 812.29,428.28 815.11,426.54 817.93,424.89 820.75,423.33 823.57,421.88 826.39,420.51 829.2,419.24 832.02,418.05 834.84,416.95 837.66,415.93 840.48,414.98 843.3,414.11 846.12,413.31 848.94,412.57 851.75,411.89 854.57,411.27 857.39,410.7 860.21,410.18 863.03,409.71 865.85,409.27 868.67,408.87 871.48,408.51 874.3,408.18 877.12,407.88 879.94,407.61 882.76,407.36 885.58,407.14 888.4,406.93 891.21,406.75 894.03,406.58 896.85,406.43 899.67,406.29 902.49,406.16 905.31,406.05 908.13,405.95 910.94,405.85 913.76,405.77 916.58,405.69 919.4,405.62 922.22,405.56 925.04,405.5 927.86,405.45 930.67,405.4 933.49,405.36 936.31,405.32 939.13,405.29 941.95,405.26" fill="none" stroke="#7B2583" stroke-width="1.4" opacity="1"/>
<polyline points="603.72,503.16 606.53,503.11 609.35,503.06 612.17,503 614.99,502.93 617.81,502.86 620.63,502.78 623.45,502.69 626.26,502.6 629.08,502.49 631.9,502.37 634.72,502.24 637.54,502.1 640.36,501.94 643.18,501.76 646,501.57 648.81,501.36 651.63,501.13 654.45,500.87 657.27,500.59 660.09,500.27 662.91,499.93 665.73,499.56 668.54,499.15 671.36,498.7 674.18,498.2 677,497.66 679.82,497.07 682.64,496.42 685.46,495.72 688.27,494.96 691.09,494.12 693.91,493.22 696.73,492.24 699.55,491.18 702.37,490.04 705.19,488.8 708,487.48 710.82,486.06 713.64,484.55 716.46,482.94 719.28,481.23 722.1,479.41 724.92,477.5 727.73,475.49 730.55,473.39 733.37,471.2 736.19,468.93 739.01,466.58 741.83,464.16 744.65,461.69 747.47,459.18 750.28,456.62 753.1,454.05 755.92,451.47 758.74,448.89 761.56,446.33 764.38,443.8 767.2,441.32 770.01,438.88 772.83,436.51 775.65,434.21 778.47,431.99 781.29,429.86 784.11,427.82 786.93,425.88 789.74,424.03 792.56,422.29 795.38,420.64 798.2,419.09 801.02,417.64 803.84,416.29 806.66,415.03 809.47,413.86 812.29,412.77 815.11,411.76 817.93,410.84 820.75,409.98 823.57,409.19 826.39,408.47 829.2,407.8 832.02,407.19 834.84,406.64 837.66,406.13 840.48,405.66 843.3,405.24 846.12,404.85 848.94,404.5 851.75,404.18 854.57,403.89 857.39,403.62 860.21,403.38 863.03,403.16 865.85,402.96 868.67,402.78 871.48,402.62 874.3,402.47 877.12,402.34 879.94,402.21 882.76,402.1 885.58,402 888.4,401.91 891.21,401.83 894.03,401.75 896.85,401.69 899.67,401.63 902.49,401.57 905.31,401.52 908.13,401.48 910.94,401.43 913.76,401.4 916.58,401.36 919.4,401.33 922.22,401.31 925.04,401.28 927.86,401.26 930.67,401.24 933.49,401.22 936.31,401.2 939.13,401.19 941.95,401.17" fill="none" stroke="#F8C3DA" stroke-width="1.4" opacity="1"/>
<polyline points="603.72,503.08 606.53,503.03 609.35,502.97 612.17,502.9 614.99,502.82 617.81,502.74 620.63,502.64 623.45,502.54 626.26,502.43 629.08,502.3 631.9,502.16 634.72,502.01 637.54,501.84 640.36,501.66 643.18,501.45 646,501.23 648.81,500.98 651.63,500.7 654.45,500.4 657.27,500.06 660.09,499.7 662.91,499.29 665.73,498.85 668.54,498.36 671.36,497.82 674.18,497.23 677,496.58 679.82,495.87 682.64,495.09 685.46,494.23 688.27,493.3 691.09,492.28 693.91,491.17 696.73,489.95 699.55,488.63 702.37,487.2 705.19,485.65 708,483.97 710.82,482.15 713.64,480.19 716.46,478.09 719.28,475.83 722.1,473.41 724.92,470.83 727.73,468.09 730.55,465.19 733.37,462.12 736.19,458.89 739.01,455.51 741.83,451.98 744.65,448.3 747.47,444.5 750.28,440.58 753.1,436.56 755.92,432.46 758.74,428.3 761.56,424.09 764.38,419.85 767.2,415.62 770.01,411.4 772.83,407.23 775.65,403.11 778.47,399.08 781.29,395.14 784.11,391.31 786.93,387.61 789.74,384.05 792.56,380.64 795.38,377.38 798.2,374.28 801.02,371.34 803.84,368.57 806.66,365.96 809.47,363.52 812.29,361.23 815.11,359.09 817.93,357.11 820.75,355.26 823.57,353.56 826.39,351.98 829.2,350.52 832.02,349.18 834.84,347.95 837.66,346.82 840.48,345.78 843.3,344.83 846.12,343.97 848.94,343.17 851.75,342.45 854.57,341.79 857.39,341.19 860.21,340.64 863.03,340.14 865.85,339.68 868.67,339.27 871.48,338.9 874.3,338.56 877.12,338.25 879.94,337.97 882.76,337.71 885.58,337.48 888.4,337.27 891.21,337.08 894.03,336.91 896.85,336.76 899.67,336.62 902.49,336.49 905.31,336.37 908.13,336.27 910.94,336.17 913.76,336.09 916.58,336.01 919.4,335.94 922.22,335.88 925.04,335.82 927.86,335.77 930.67,335.72 933.49,335.68 936.31,335.64 939.13,335.6 941.95,335.57" fill="none" stroke="#CC5DA7" stroke-width="1.4" opacity="1"/>
<polyline points="603.72,503.43 606.53,503.42 609.35,503.39 612.17,503.37 614.99,503.34 617.81,503.31 620.63,503.28 623.45,503.25 626.26,503.21 629.08,503.16 631.9,503.12 634.72,503.06 637.54,503 640.36,502.94 643.18,502.87 646,502.79 648.81,502.7 651.63,502.61 654.45,502.5 657.27,502.38 660.09,502.25 662.91,502.11 665.73,501.95 668.54,501.78 671.36,501.59 674.18,501.38 677,501.14 679.82,500.89 682.64,500.61 685.46,500.3 688.27,499.96 691.09,499.58 693.91,499.17 696.73,498.72 699.55,498.23 702.37,497.69 705.19,497.1 708,496.46 710.82,495.75 713.64,494.99 716.46,494.15 719.28,493.25 722.1,492.26 724.92,491.2 727.73,490.05 730.55,488.81 733.37,487.47 736.19,486.04 739.01,484.51 741.83,482.87 744.65,481.13 747.47,479.28 750.28,477.33 753.1,475.28 755.92,473.12 758.74,470.87 761.56,468.53 764.38,466.1 767.2,463.6 770.01,461.03 772.83,458.41 775.65,455.74 778.47,453.04 781.29,450.33 784.11,447.61 786.93,444.9 789.74,442.21 792.56,439.56 795.38,436.96 798.2,434.42 801.02,431.95 803.84,429.57 806.66,427.26 809.47,425.06 812.29,422.95 815.11,420.94 817.93,419.04 820.75,417.24 823.57,415.55 826.39,413.96 829.2,412.47 832.02,411.09 834.84,409.79 837.66,408.6 840.48,407.49 843.3,406.46 846.12,405.51 848.94,404.64 851.75,403.84 854.57,403.1 857.39,402.42 860.21,401.8 863.03,401.24 865.85,400.72 868.67,400.25 871.48,399.82 874.3,399.42 877.12,399.07 879.94,398.74 882.76,398.44 885.58,398.18 888.4,397.93 891.21,397.71 894.03,397.51 896.85,397.32 899.67,397.16 902.49,397.01 905.31,396.87 908.13,396.75 910.94,396.64 913.76,396.53 916.58,396.44 919.4,396.36 922.22,396.28 925.04,396.21 927.86,396.15 930.67,396.1 933.49,396.05 936.31,396 939.13,395.96 941.95,395.92" fill="none" stroke="#EE1C25" stroke-width="1.4" opacity="1"/>
<circle cx="603.71" cy="504.4" r="5.4" fill="#000000"/>
<circle cx="634.46" cy="504.4" r="5.4" fill="#000000"/>
<circle cx="665.21" cy="504.4" r="5.4" fill="#000000"/>
<circle cx="695.96" cy="504.4" r="5.4" fill="#000000"/>
<circle cx="726.71" cy="504.4" r="5.4" fill="#000000"/>
<circle cx="757.45" cy="504.4" r="5.4" fill="#000000"/>
<circle cx="788.2" cy="504.4" r="5.4" fill="#000000"/>
<circle cx="818.95" cy="504.4" r="5.4" fill="#000000"/>
<circle cx="849.7" cy="504.4" r="5.4" fill="#000000"/>
<circle cx="880.45" cy="504.4" r="5.4" fill="#000000"/>
<circle cx="911.2" cy="504.4" r="5.4" fill="#000000"/>
<circle cx="941.95" cy="504.4" r="5.4" fill="#000000"/>
<circle cx="603.71" cy="503.62" r="5.4" fill="#6BA0D9"/>
<circle cx="634.46" cy="504.4" r="5.4" fill="#6BA0D9"/>
<circle cx="665.21" cy="504.4" r="5.4" fill="#6BA0D9"/>
<circle cx="695.96" cy="504.4" r="5.4" fill="#6BA0D9"/>
<circle cx="726.71" cy="503.62" r="5.4" fill="#6BA0D9"/>
<circle cx="757.45" cy="503.62" r="5.4" fill="#6BA0D9"/>
<circle cx="788.2" cy="503.62" r="5.4" fill="#6BA0D9"/>
<circle cx="818.95" cy="502.84" r="5.4" fill="#6BA0D9"/>
<circle cx="849.7" cy="502.05" r="5.4" fill="#6BA0D9"/>
<circle cx="880.45" cy="502.05" r="5.4" fill="#6BA0D9"/>
<circle cx="911.2" cy="502.05" r="5.4" fill="#6BA0D9"/>
<circle cx="941.95" cy="501.27" r="5.4" fill="#6BA0D9"/>
<circle cx="603.71" cy="502.05" r="5.4" fill="#F7821F"/>
<circle cx="634.46" cy="502.84" r="5.4" fill="#F7821F"/>
<circle cx="665.21" cy="502.05" r="5.4" fill="#F7821F"/>
<circle cx="695.96" cy="501.27" r="5.4" fill="#F7821F"/>
<circle cx="726.71" cy="500.49" r="5.4" fill="#F7821F"/>
<circle cx="757.45" cy="499.7" r="5.4" fill="#F7821F"/>
<circle cx="788.2" cy="499.7" r="5.4" fill="#F7821F"/>
<circle cx="818.95" cy="499.7" r="5.4" fill="#F7821F"/>
<circle cx="849.7" cy="497.36" r="5.4" fill="#F7821F"/>
<circle cx="880.45" cy="495.01" r="5.4" fill="#F7821F"/>
<circle cx="911.2" cy="491.87" r="5.4" fill="#F7821F"/>
<circle cx="941.95" cy="491.87" r="5.4" fill="#F7821F"/>
<circle cx="603.71" cy="503.62" r="5.4" fill="#8888C8"/>
<circle cx="634.46" cy="504.4" r="5.4" fill="#8888C8"/>
<circle cx="665.21" cy="504.4" r="5.4" fill="#8888C8"/>
<circle cx="695.96" cy="503.62" r="5.4" fill="#8888C8"/>
<circle cx="726.71" cy="503.62" r="5.4" fill="#8888C8"/>
<circle cx="757.45" cy="503.62" r="5.4" fill="#8888C8"/>
<circle cx="788.2" cy="503.62" r="5.4" fill="#8888C8"/>
<circle cx="818.95" cy="502.84" r="5.4" fill="#8888C8"/>
<circle cx="849.7" cy="501.27" r="5.4" fill="#8888C8"/>
<circle cx="880.45" cy="500.49" r="5.4" fill="#8888C8"/>
<circle cx="911.2" cy="499.7" r="5.4" fill="#8888C8"/>
<circle cx="941.95" cy="498.14" r="5.4" fill="#8888C8"/>
<circle cx="603.71" cy="502.84" r="5.4" fill="#946326"/>
<circle cx="634.46" cy="502.84" r="5.4" fill="#946326"/>
<circle cx="665.21" cy="502.05" r="5.4" fill="#946326"/>
<circle cx="695.96" cy="499.7" r="5.4" fill="#946326"/>
<circle cx="726.71" cy="493.44" r="5.4" fill="#946326"/>
<circle cx="757.45" cy="489.53" r="5.4" fill="#946326"/>
<circle cx="788.2" cy="489.53" r="5.4" fill="#946326"/>
<circle cx="818.95" cy="487.18" r="5.4" fill="#946326"/>
<circle cx="849.7" cy="487.18" r="5.4" fill="#946326"/>
<circle cx="880.45" cy="487.18" r="5.4" fill="#946326"/>
<circle cx="911.2" cy="487.96" r="5.4" fill="#946326"/>
<circle cx="941.95" cy="487.18" r="5.4" fill="#946326"/>
<circle cx="603.71" cy="502.84" r="5.4" fill="#2DB34A"/>
<circle cx="634.46" cy="502.84" r="5.4" fill="#2DB34A"/>
<circle cx="665.21" cy="502.05" r="5.4" fill="#2DB34A"/>
<circle cx="695.96" cy="498.92" r="5.4" fill="#2DB34A"/>
<circle cx="726.71" cy="491.87" r="5.4" fill="#2DB34A"/>
<circle cx="757.45" cy="471.52" r="5.4" fill="#2DB34A"/>
<circle cx="788.2" cy="453.51" r="5.4" fill="#2DB34A"/>
<circle cx="818.95" cy="421.4" r="5.4" fill="#2DB34A"/>
<path d="M849.7,404.18V419.84M844.7,404.18H854.7M844.7,419.84H854.7" stroke="#2DB34A" stroke-width="1.6" fill="none"/>
<circle cx="849.7" cy="412.01" r="5.4" fill="#2DB34A"/>
<path d="M880.45,399.48V415.14M875.45,399.48H885.45M875.45,415.14H885.45" stroke="#2DB34A" stroke-width="1.6" fill="none"/>
<circle cx="880.45" cy="407.31" r="5.4" fill="#2DB34A"/>
<circle cx="911.2" cy="408.88" r="5.4" fill="#2DB34A"/>
<path d="M941.95,405.74V421.4M936.95,405.74H946.95M936.95,421.4H946.95" stroke="#2DB34A" stroke-width="1.6" fill="none"/>
<circle cx="941.95" cy="413.57" r="5.4" fill="#2DB34A"/>
<circle cx="603.71" cy="502.84" r="5.4" fill="#7B2583"/>
<circle cx="634.46" cy="502.84" r="5.4" fill="#7B2583"/>
<circle cx="665.21" cy="502.05" r="5.4" fill="#7B2583"/>
<circle cx="695.96" cy="498.92" r="5.4" fill="#7B2583"/>
<circle cx="726.71" cy="489.53" r="5.4" fill="#7B2583"/>
<circle cx="757.45" cy="469.95" r="5.4" fill="#7B2583"/>
<circle cx="788.2" cy="442.55" r="5.4" fill="#7B2583"/>
<circle cx="818.95" cy="413.57" r="5.4" fill="#7B2583"/>
<circle cx="849.7" cy="411.23" r="5.4" fill="#7B2583"/>
<path d="M880.45,395.56V419.06M875.45,395.56H885.45M875.45,419.06H885.45" stroke="#7B2583" stroke-width="1.6" fill="none"/>
<circle cx="880.45" cy="407.31" r="5.4" fill="#7B2583"/>
<path d="M911.2,401.05V419.84M906.2,401.05H916.2M906.2,419.84H916.2" stroke="#7B2583" stroke-width="1.6" fill="none"/>
<circle cx="911.2" cy="410.44" r="5.4" fill="#7B2583"/>
<path d="M941.95,383.82V422.97M936.95,383.82H946.95M936.95,422.97H946.95" stroke="#7B2583" stroke-width="1.6" fill="none"/>
<circle cx="941.95" cy="403.4" r="5.4" fill="#7B2583"/>
<circle cx="603.71" cy="506.75" r="5.4" fill="#F8C3DA"/>
<circle cx="634.46" cy="502.05" r="5.4" fill="#F8C3DA"/>
<circle cx="665.21" cy="499.7" r="5.4" fill="#F8C3DA"/>
<circle cx="695.96" cy="491.87" r="5.4" fill="#F8C3DA"/>
<circle cx="726.71" cy="473.87" r="5.4" fill="#F8C3DA"/>
<circle cx="757.45" cy="448.81" r="5.4" fill="#F8C3DA"/>
<path d="M788.2,414.36V430.02M783.2,414.36H793.2M783.2,430.02H793.2" stroke="#F8C3DA" stroke-width="1.6" fill="none"/>
<circle cx="788.2" cy="422.19" r="5.4" fill="#F8C3DA"/>
<path d="M818.95,393.22V404.18M813.95,393.22H823.95M813.95,404.18H823.95" stroke="#F8C3DA" stroke-width="1.6" fill="none"/>
<circle cx="818.95" cy="398.7" r="5.4" fill="#F8C3DA"/>
<circle cx="849.7" cy="401.83" r="5.4" fill="#F8C3DA"/>
<circle cx="880.45" cy="399.48" r="5.4" fill="#F8C3DA"/>
<circle cx="911.2" cy="401.05" r="5.4" fill="#F8C3DA"/>
<circle cx="941.95" cy="401.05" r="5.4" fill="#F8C3DA"/>
<circle cx="603.71" cy="502.84" r="5.4" fill="#CC5DA7"/>
<circle cx="634.46" cy="502.84" r="5.4" fill="#CC5DA7"/>
<circle cx="665.21" cy="499.7" r="5.4" fill="#CC5DA7"/>
<circle cx="695.96" cy="489.53" r="5.4" fill="#CC5DA7"/>
<circle cx="726.71" cy="464.47" r="5.4" fill="#CC5DA7"/>
<path d="M757.45,425.32V437.85M752.45,425.32H762.45M752.45,437.85H762.45" stroke="#CC5DA7" stroke-width="1.6" fill="none"/>
<circle cx="757.45" cy="431.58" r="5.4" fill="#CC5DA7"/>
<path d="M788.2,389.3V401.83M783.2,389.3H793.2M783.2,401.83H793.2" stroke="#CC5DA7" stroke-width="1.6" fill="none"/>
<circle cx="788.2" cy="395.57" r="5.4" fill="#CC5DA7"/>
<path d="M818.95,342.32V357.98M813.95,342.32H823.95M813.95,357.98H823.95" stroke="#CC5DA7" stroke-width="1.6" fill="none"/>
<circle cx="818.95" cy="350.15" r="5.4" fill="#CC5DA7"/>
<path d="M849.7,321.18V336.84M844.7,321.18H854.7M844.7,336.84H854.7" stroke="#CC5DA7" stroke-width="1.6" fill="none"/>
<circle cx="849.7" cy="329.01" r="5.4" fill="#CC5DA7"/>
<path d="M880.45,326.66V350.15M875.45,326.66H885.45M875.45,350.15H885.45" stroke="#CC5DA7" stroke-width="1.6" fill="none"/>
<circle cx="880.45" cy="338.41" r="5.4" fill="#CC5DA7"/>
<path d="M911.2,331.36V350.15M906.2,331.36H916.2M906.2,350.15H916.2" stroke="#CC5DA7" stroke-width="1.6" fill="none"/>
<circle cx="911.2" cy="340.75" r="5.4" fill="#CC5DA7"/>
<path d="M941.95,326.66V350.15M936.95,326.66H946.95M936.95,350.15H946.95" stroke="#CC5DA7" stroke-width="1.6" fill="none"/>
<circle cx="941.95" cy="338.41" r="5.4" fill="#CC5DA7"/>
<circle cx="603.71" cy="503.62" r="5.4" fill="#EE1C25"/>
<circle cx="634.46" cy="503.62" r="5.4" fill="#EE1C25"/>
<circle cx="665.21" cy="502.05" r="5.4" fill="#EE1C25"/>
<circle cx="695.96" cy="498.92" r="5.4" fill="#EE1C25"/>
<circle cx="726.71" cy="487.18" r="5.4" fill="#EE1C25"/>
<circle cx="757.45" cy="468.38" r="5.4" fill="#EE1C25"/>
<circle cx="788.2" cy="446.46" r="5.4" fill="#EE1C25"/>
<path d="M818.95,407.31V438.63M813.95,407.31H823.95M813.95,438.63H823.95" stroke="#EE1C25" stroke-width="1.6" fill="none"/>
<circle cx="818.95" cy="422.97" r="5.4" fill="#EE1C25"/>
<path d="M849.7,395.56V426.89M844.7,395.56H854.7M844.7,426.89H854.7" stroke="#EE1C25" stroke-width="1.6" fill="none"/>
<circle cx="849.7" cy="411.23" r="5.4" fill="#EE1C25"/>
<path d="M880.45,389.3V412.79M875.45,389.3H885.45M875.45,412.79H885.45" stroke="#EE1C25" stroke-width="1.6" fill="none"/>
<circle cx="880.45" cy="401.05" r="5.4" fill="#EE1C25"/>
<path d="M911.2,385.39V401.05M906.2,385.39H916.2M906.2,401.05H916.2" stroke="#EE1C25" stroke-width="1.6" fill="none"/>
<circle cx="911.2" cy="393.22" r="5.4" fill="#EE1C25"/>
<path d="M941.95,375.21V409.66M936.95,375.21H946.95M936.95,409.66H946.95" stroke="#EE1C25" stroke-width="1.6" fill="none"/>
<circle cx="941.95" cy="392.43" r="5.4" fill="#EE1C25"/>
</g>
<path d="M568,272.2V519.5M566,517.5H989" stroke="#000" stroke-width="4" fill="none"/>
<line x1="556.5" y1="509.1" x2="568" y2="509.1" stroke="#000" stroke-width="4" />
<text transform="translate(537.67,520.3) scale(0.92,1)" font-size="31.5" font-weight="bold" fill="#000">0</text>
<line x1="556.5" y1="430.8" x2="568" y2="430.8" stroke="#000" stroke-width="4" />
<text transform="translate(537.29,442) scale(0.92,1)" font-size="31.5" font-weight="bold" fill="#000">1</text>
<line x1="556.5" y1="352.5" x2="568" y2="352.5" stroke="#000" stroke-width="4" />
<text transform="translate(537.64,363.7) scale(0.92,1)" font-size="31.5" font-weight="bold" fill="#000">2</text>
<line x1="556.5" y1="274.2" x2="568" y2="274.2" stroke="#000" stroke-width="4" />
<text transform="translate(537.53,285.4) scale(0.92,1)" font-size="31.5" font-weight="bold" fill="#000">3</text>
<line x1="600.3" y1="517.5" x2="600.3" y2="529" stroke="#000" stroke-width="4" />
<text transform="translate(585.93,560) scale(0.92,1)" font-size="31.5" font-weight="bold" fill="#000">-4</text>
<line x1="664.75" y1="517.5" x2="664.75" y2="529" stroke="#000" stroke-width="4" />
<text transform="translate(650.82,560) scale(0.92,1)" font-size="31.5" font-weight="bold" fill="#000">-3</text>
<line x1="729.2" y1="517.5" x2="729.2" y2="529" stroke="#000" stroke-width="4" />
<text transform="translate(715.33,560) scale(0.92,1)" font-size="31.5" font-weight="bold" fill="#000">-2</text>
<line x1="793.65" y1="517.5" x2="793.65" y2="529" stroke="#000" stroke-width="4" />
<text transform="translate(779.6,560) scale(0.92,1)" font-size="31.5" font-weight="bold" fill="#000">-1</text>
<line x1="858.1" y1="517.5" x2="858.1" y2="529" stroke="#000" stroke-width="4" />
<text transform="translate(850.06,560) scale(0.92,1)" font-size="31.5" font-weight="bold" fill="#000">0</text>
<line x1="922.55" y1="517.5" x2="922.55" y2="529" stroke="#000" stroke-width="4" />
<text transform="translate(913.98,560) scale(0.92,1)" font-size="31.5" font-weight="bold" fill="#000">1</text>
<line x1="987" y1="517.5" x2="987" y2="529" stroke="#000" stroke-width="4" />
<text transform="translate(979.02,560) scale(0.92,1)" font-size="31.5" font-weight="bold" fill="#000">2</text>
<g transform="translate(517,444) rotate(-90) scale(0.28,0.32) translate(-4.1,0)">
<text font-size="100" font-weight="bold">OD<tspan font-size="72.4" dy="21.0">405 nm</tspan></text></g>
<g transform="translate(672.1,599.6) scale(0.29,0.27) translate(-6.74,0)">
<text font-size="100">log<tspan font-size="74.0" dy="24">10</tspan><tspan dy="-24">[mAb] µg/ml</tspan></text></g>
<text transform="translate(1092.1,213.05) scale(1.05,1)" font-size="35.4" font-weight="bold" fill="#000" >hMPV B2 F monomer</text>
<g>
<polyline points="1108.65,505.02 1111.42,505.02 1114.19,505.02 1116.96,505.02 1119.73,505.02 1122.5,505.02 1125.26,505.02 1128.03,505.02 1130.8,505.02 1133.57,505.02 1136.34,505.02 1139.11,505.02 1141.87,505.02 1144.64,505.02 1147.41,505.02 1150.18,505.02 1152.95,505.02 1155.72,505.02 1158.48,505.02 1161.25,505.02 1164.02,505.02 1166.79,505.02 1169.56,505.02 1172.33,505.02 1175.09,505.02 1177.86,505.02 1180.63,505.02 1183.4,505.02 1186.17,505.02 1188.94,505.02 1191.7,505.02 1194.47,505.02 1197.24,505.02 1200.01,505.02 1202.78,505.02 1205.55,505.02 1208.31,505.02 1211.08,505.02 1213.85,505.02 1216.62,505.02 1219.39,505.02 1222.16,505.02 1224.92,505.02 1227.69,505.02 1230.46,505.02 1233.23,505.02 1236,505.02 1238.77,505.02 1241.53,505.02 1244.3,505.02 1247.07,505.02 1249.84,505.02 1252.61,505.02 1255.38,505.02 1258.14,505.02 1260.91,505.01 1263.68,505.01 1266.45,505.01 1269.22,505.01 1271.99,505.01 1274.75,505.01 1277.52,505 1280.29,505 1283.06,505 1285.83,504.99 1288.6,504.99 1291.36,504.99 1294.13,504.98 1296.9,504.97 1299.67,504.97 1302.44,504.96 1305.21,504.95 1307.97,504.94 1310.74,504.93 1313.51,504.92 1316.28,504.91 1319.05,504.89 1321.82,504.88 1324.58,504.86 1327.35,504.84 1330.12,504.81 1332.89,504.79 1335.66,504.76 1338.43,504.72 1341.19,504.68 1343.96,504.64 1346.73,504.59 1349.5,504.54 1352.27,504.48 1355.04,504.41 1357.8,504.33 1360.57,504.25 1363.34,504.15 1366.11,504.04 1368.88,503.92 1371.65,503.79 1374.41,503.64 1377.18,503.48 1379.95,503.3 1382.72,503.1 1385.49,502.88 1388.26,502.63 1391.02,502.36 1393.79,502.07 1396.56,501.75 1399.33,501.41 1402.1,501.04 1404.87,500.63 1407.63,500.2 1410.4,499.74 1413.17,499.26 1415.94,498.75 1418.71,498.21 1421.48,497.65 1424.24,497.07 1427.01,496.48 1429.78,495.87 1432.55,495.26 1435.32,494.65 1438.08,494.03 1440.85,493.43" fill="none" stroke="#000000" stroke-width="1.4" opacity="1"/>
<polyline points="1108.65,503.31 1111.42,503.3 1114.19,503.29 1116.96,503.28 1119.73,503.26 1122.5,503.25 1125.26,503.23 1128.03,503.22 1130.8,503.2 1133.57,503.18 1136.34,503.16 1139.11,503.13 1141.87,503.1 1144.64,503.07 1147.41,503.04 1150.18,503 1152.95,502.96 1155.72,502.91 1158.48,502.86 1161.25,502.8 1164.02,502.74 1166.79,502.67 1169.56,502.6 1172.33,502.51 1175.09,502.42 1177.86,502.32 1180.63,502.21 1183.4,502.08 1186.17,501.94 1188.94,501.79 1191.7,501.63 1194.47,501.44 1197.24,501.24 1200.01,501.02 1202.78,500.77 1205.55,500.5 1208.31,500.21 1211.08,499.88 1213.85,499.53 1216.62,499.13 1219.39,498.7 1222.16,498.23 1224.92,497.72 1227.69,497.15 1230.46,496.54 1233.23,495.87 1236,495.14 1238.77,494.35 1241.53,493.48 1244.3,492.55 1247.07,491.54 1249.84,490.45 1252.61,489.28 1255.38,488.02 1258.14,486.67 1260.91,485.22 1263.68,483.69 1266.45,482.05 1269.22,480.33 1271.99,478.5 1274.75,476.59 1277.52,474.59 1280.29,472.5 1283.06,470.33 1285.83,468.09 1288.6,465.79 1291.36,463.43 1294.13,461.03 1296.9,458.6 1299.67,456.15 1302.44,453.69 1305.21,451.23 1307.97,448.79 1310.74,446.38 1313.51,444.01 1316.28,441.68 1319.05,439.42 1321.82,437.23 1324.58,435.11 1327.35,433.08 1330.12,431.14 1332.89,429.28 1335.66,427.52 1338.43,425.86 1341.19,424.29 1343.96,422.81 1346.73,421.43 1349.5,420.14 1352.27,418.93 1355.04,417.82 1357.8,416.78 1360.57,415.82 1363.34,414.93 1366.11,414.12 1368.88,413.37 1371.65,412.68 1374.41,412.04 1377.18,411.46 1379.95,410.93 1382.72,410.44 1385.49,410 1388.26,409.6 1391.02,409.23 1393.79,408.89 1396.56,408.58 1399.33,408.31 1402.1,408.05 1404.87,407.82 1407.63,407.61 1410.4,407.42 1413.17,407.25 1415.94,407.1 1418.71,406.95 1421.48,406.83 1424.24,406.71 1427.01,406.6 1429.78,406.51 1432.55,406.42 1435.32,406.34 1438.08,406.27 1440.85,406.21" fill="none" stroke="#6BA0D9" stroke-width="1.4" opacity="1"/>
<polyline points="1108.65,502.11 1111.42,502.06 1114.19,502 1116.96,501.94 1119.73,501.87 1122.5,501.8 1125.26,501.71 1128.03,501.62 1130.8,501.52 1133.57,501.41 1136.34,501.29 1139.11,501.15 1141.87,501 1144.64,500.83 1147.41,500.65 1150.18,500.45 1152.95,500.22 1155.72,499.98 1158.48,499.7 1161.25,499.4 1164.02,499.07 1166.79,498.71 1169.56,498.31 1172.33,497.86 1175.09,497.38 1177.86,496.84 1180.63,496.25 1183.4,495.6 1186.17,494.89 1188.94,494.11 1191.7,493.25 1194.47,492.31 1197.24,491.28 1200.01,490.15 1202.78,488.92 1205.55,487.58 1208.31,486.11 1211.08,484.52 1213.85,482.78 1216.62,480.9 1219.39,478.86 1222.16,476.66 1224.92,474.28 1227.69,471.72 1230.46,468.97 1233.23,466.03 1236,462.89 1238.77,459.54 1241.53,455.98 1244.3,452.23 1247.07,448.26 1249.84,444.1 1252.61,439.75 1255.38,435.22 1258.14,430.52 1260.91,425.67 1263.68,420.68 1266.45,415.58 1269.22,410.39 1271.99,405.13 1274.75,399.83 1277.52,394.52 1280.29,389.22 1283.06,383.96 1285.83,378.76 1288.6,373.66 1291.36,368.66 1294.13,363.8 1296.9,359.09 1299.67,354.55 1302.44,350.19 1305.21,346.02 1307.97,342.05 1310.74,338.28 1313.51,334.72 1316.28,331.36 1319.05,328.2 1321.82,325.25 1324.58,322.49 1327.35,319.92 1330.12,317.53 1332.89,315.32 1335.66,313.27 1338.43,311.38 1341.19,309.64 1343.96,308.04 1346.73,306.57 1349.5,305.22 1352.27,303.98 1355.04,302.85 1357.8,301.82 1360.57,300.87 1363.34,300.01 1366.11,299.22 1368.88,298.51 1371.65,297.86 1374.41,297.26 1377.18,296.72 1379.95,296.23 1382.72,295.79 1385.49,295.39 1388.26,295.02 1391.02,294.69 1393.79,294.39 1396.56,294.11 1399.33,293.86 1402.1,293.64 1404.87,293.44 1407.63,293.25 1410.4,293.08 1413.17,292.93 1415.94,292.8 1418.71,292.67 1421.48,292.56 1424.24,292.46 1427.01,292.37 1429.78,292.28 1432.55,292.21 1435.32,292.14 1438.08,292.08 1440.85,292.02" fill="none" stroke="#F7821F" stroke-width="1.4" opacity="1"/>
<polyline points="1108.65,503.31 1111.42,503.31 1114.19,503.3 1116.96,503.29 1119.73,503.28 1122.5,503.26 1125.26,503.25 1128.03,503.23 1130.8,503.22 1133.57,503.2 1136.34,503.18 1139.11,503.15 1141.87,503.13 1144.64,503.1 1147.41,503.07 1150.18,503.03 1152.95,503 1155.72,502.95 1158.48,502.91 1161.25,502.85 1164.02,502.8 1166.79,502.73 1169.56,502.67 1172.33,502.59 1175.09,502.5 1177.86,502.41 1180.63,502.31 1183.4,502.19 1186.17,502.07 1188.94,501.93 1191.7,501.78 1194.47,501.61 1197.24,501.42 1200.01,501.22 1202.78,500.99 1205.55,500.75 1208.31,500.47 1211.08,500.17 1213.85,499.84 1216.62,499.48 1219.39,499.09 1222.16,498.65 1224.92,498.18 1227.69,497.65 1230.46,497.08 1233.23,496.46 1236,495.78 1238.77,495.04 1241.53,494.24 1244.3,493.37 1247.07,492.42 1249.84,491.4 1252.61,490.29 1255.38,489.1 1258.14,487.82 1260.91,486.45 1263.68,484.99 1266.45,483.42 1269.22,481.77 1271.99,480.01 1274.75,478.15 1277.52,476.21 1280.29,474.17 1283.06,472.04 1285.83,469.83 1288.6,467.54 1291.36,465.19 1294.13,462.78 1296.9,460.33 1299.67,457.84 1302.44,455.33 1305.21,452.81 1307.97,450.29 1310.74,447.78 1313.51,445.3 1316.28,442.87 1319.05,440.48 1321.82,438.15 1324.58,435.89 1327.35,433.71 1330.12,431.62 1332.89,429.61 1335.66,427.69 1338.43,425.88 1341.19,424.16 1343.96,422.53 1346.73,421.01 1349.5,419.58 1352.27,418.24 1355.04,416.99 1357.8,415.84 1360.57,414.76 1363.34,413.77 1366.11,412.85 1368.88,412 1371.65,411.22 1374.41,410.5 1377.18,409.85 1379.95,409.24 1382.72,408.69 1385.49,408.19 1388.26,407.73 1391.02,407.31 1393.79,406.92 1396.56,406.58 1399.33,406.26 1402.1,405.97 1404.87,405.7 1407.63,405.47 1410.4,405.25 1413.17,405.05 1415.94,404.87 1418.71,404.71 1421.48,404.56 1424.24,404.43 1427.01,404.31 1429.78,404.2 1432.55,404.1 1435.32,404.01 1438.08,403.93 1440.85,403.85" fill="none" stroke="#8888C8" stroke-width="1.4" opacity="1"/>
<polyline points="1108.65,502.23 1111.42,502.19 1114.19,502.15 1116.96,502.1 1119.73,502.04 1122.5,501.98 1125.26,501.92 1128.03,501.85 1130.8,501.76 1133.57,501.67 1136.34,501.57 1139.11,501.46 1141.87,501.34 1144.64,501.2 1147.41,501.05 1150.18,500.88 1152.95,500.69 1155.72,500.48 1158.48,500.25 1161.25,500 1164.02,499.72 1166.79,499.4 1169.56,499.06 1172.33,498.68 1175.09,498.25 1177.86,497.79 1180.63,497.27 1183.4,496.7 1186.17,496.08 1188.94,495.39 1191.7,494.63 1194.47,493.79 1197.24,492.88 1200.01,491.87 1202.78,490.78 1205.55,489.58 1208.31,488.27 1211.08,486.84 1213.85,485.29 1216.62,483.61 1219.39,481.79 1222.16,479.83 1224.92,477.72 1227.69,475.46 1230.46,473.04 1233.23,470.46 1236,467.73 1238.77,464.83 1241.53,461.79 1244.3,458.6 1247.07,455.26 1249.84,451.8 1252.61,448.23 1255.38,444.55 1258.14,440.79 1260.91,436.96 1263.68,433.09 1266.45,429.2 1269.22,425.3 1271.99,421.42 1274.75,417.59 1277.52,413.81 1280.29,410.12 1283.06,406.52 1285.83,403.04 1288.6,399.68 1291.36,396.46 1294.13,393.38 1296.9,390.46 1299.67,387.7 1302.44,385.09 1305.21,382.64 1307.97,380.35 1310.74,378.21 1313.51,376.22 1316.28,374.37 1319.05,372.67 1321.82,371.09 1324.58,369.64 1327.35,368.31 1330.12,367.09 1332.89,365.97 1335.66,364.95 1338.43,364.02 1341.19,363.17 1343.96,362.4 1346.73,361.7 1349.5,361.06 1352.27,360.48 1355.04,359.95 1357.8,359.48 1360.57,359.05 1363.34,358.66 1366.11,358.3 1368.88,357.99 1371.65,357.7 1374.41,357.44 1377.18,357.2 1379.95,356.99 1382.72,356.8 1385.49,356.63 1388.26,356.47 1391.02,356.33 1393.79,356.21 1396.56,356.09 1399.33,355.99 1402.1,355.9 1404.87,355.81 1407.63,355.74 1410.4,355.67 1413.17,355.61 1415.94,355.56 1418.71,355.51 1421.48,355.46 1424.24,355.42 1427.01,355.39 1429.78,355.36 1432.55,355.33 1435.32,355.3 1438.08,355.28 1440.85,355.26" fill="none" stroke="#946326" stroke-width="1.4" opacity="1"/>
<polyline points="1108.65,505.02 1111.42,505.02 1114.19,505.02 1116.96,505.02 1119.73,505.02 1122.5,505.02 1125.26,505.02 1128.03,505.02 1130.8,505.02 1133.57,505.02 1136.34,505.02 1139.11,505.02 1141.87,505.02 1144.64,505.02 1147.41,505.02 1150.18,505.02 1152.95,505.02 1155.72,505.02 1158.48,505.02 1161.25,505.02 1164.02,505.02 1166.79,505.02 1169.56,505.02 1172.33,505.02 1175.09,505.02 1177.86,505.02 1180.63,505.02 1183.4,505.02 1186.17,505.02 1188.94,505.02 1191.7,505.02 1194.47,505.02 1197.24,505.02 1200.01,505.02 1202.78,505.02 1205.55,505.02 1208.31,505.02 1211.08,505.02 1213.85,505.02 1216.62,505.02 1219.39,505.02 1222.16,505.02 1224.92,505.02 1227.69,505.02 1230.46,505.02 1233.23,505.02 1236,505.02 1238.77,505.02 1241.53,505.02 1244.3,505.02 1247.07,505.02 1249.84,505.02 1252.61,505.01 1255.38,505.01 1258.14,505.01 1260.91,505.01 1263.68,505.01 1266.45,505.01 1269.22,505 1271.99,505 1274.75,505 1277.52,505 1280.29,504.99 1283.06,504.99 1285.83,504.98 1288.6,504.98 1291.36,504.97 1294.13,504.96 1296.9,504.96 1299.67,504.95 1302.44,504.94 1305.21,504.93 1307.97,504.91 1310.74,504.9 1313.51,504.88 1316.28,504.86 1319.05,504.84 1321.82,504.82 1324.58,504.79 1327.35,504.77 1330.12,504.73 1332.89,504.7 1335.66,504.65 1338.43,504.61 1341.19,504.56 1343.96,504.5 1346.73,504.43 1349.5,504.36 1352.27,504.28 1355.04,504.19 1357.8,504.08 1360.57,503.97 1363.34,503.85 1366.11,503.71 1368.88,503.55 1371.65,503.38 1374.41,503.2 1377.18,502.99 1379.95,502.77 1382.72,502.52 1385.49,502.25 1388.26,501.96 1391.02,501.65 1393.79,501.32 1396.56,500.96 1399.33,500.58 1402.1,500.18 1404.87,499.76 1407.63,499.32 1410.4,498.86 1413.17,498.39 1415.94,497.91 1418.71,497.42 1421.48,496.93 1424.24,496.44 1427.01,495.95 1429.78,495.47 1432.55,495 1435.32,494.54 1438.08,494.09 1440.85,493.67" fill="none" stroke="#2DB34A" stroke-width="1.4" opacity="1"/>
<polyline points="1108.65,503.33 1111.42,503.32 1114.19,503.31 1116.96,503.31 1119.73,503.3 1122.5,503.29 1125.26,503.27 1128.03,503.26 1130.8,503.25 1133.57,503.23 1136.34,503.22 1139.11,503.2 1141.87,503.18 1144.64,503.15 1147.41,503.13 1150.18,503.1 1152.95,503.07 1155.72,503.03 1158.48,502.99 1161.25,502.95 1164.02,502.9 1166.79,502.85 1169.56,502.8 1172.33,502.73 1175.09,502.66 1177.86,502.59 1180.63,502.5 1183.4,502.41 1186.17,502.3 1188.94,502.19 1191.7,502.06 1194.47,501.92 1197.24,501.77 1200.01,501.6 1202.78,501.42 1205.55,501.21 1208.31,500.98 1211.08,500.74 1213.85,500.46 1216.62,500.16 1219.39,499.83 1222.16,499.47 1224.92,499.07 1227.69,498.63 1230.46,498.15 1233.23,497.63 1236,497.05 1238.77,496.43 1241.53,495.74 1244.3,495 1247.07,494.19 1249.84,493.31 1252.61,492.35 1255.38,491.32 1258.14,490.2 1260.91,489 1263.68,487.7 1266.45,486.32 1269.22,484.83 1271.99,483.25 1274.75,481.56 1277.52,479.78 1280.29,477.89 1283.06,475.91 1285.83,473.83 1288.6,471.66 1291.36,469.4 1294.13,467.06 1296.9,464.65 1299.67,462.18 1302.44,459.66 1305.21,457.1 1307.97,454.51 1310.74,451.91 1313.51,449.3 1316.28,446.71 1319.05,444.14 1321.82,441.61 1324.58,439.13 1327.35,436.71 1330.12,434.36 1332.89,432.08 1335.66,429.89 1338.43,427.79 1341.19,425.79 1343.96,423.88 1346.73,422.08 1349.5,420.37 1352.27,418.77 1355.04,417.26 1357.8,415.86 1360.57,414.54 1363.34,413.32 1366.11,412.19 1368.88,411.14 1371.65,410.17 1374.41,409.27 1377.18,408.45 1379.95,407.69 1382.72,406.99 1385.49,406.36 1388.26,405.77 1391.02,405.24 1393.79,404.75 1396.56,404.3 1399.33,403.9 1402.1,403.53 1404.87,403.19 1407.63,402.88 1410.4,402.6 1413.17,402.35 1415.94,402.12 1418.71,401.91 1421.48,401.72 1424.24,401.55 1427.01,401.39 1429.78,401.25 1432.55,401.12 1435.32,401 1438.08,400.9 1440.85,400.8" fill="none" stroke="#7B2583" stroke-width="1.4" opacity="1"/>
<polyline points="1108.65,506.65 1111.42,506.65 1114.19,506.65 1116.96,506.65 1119.73,506.65 1122.5,506.65 1125.26,506.65 1128.03,506.65 1130.8,506.65 1133.57,506.65 1136.34,506.65 1139.11,506.65 1141.87,506.65 1144.64,506.65 1147.41,506.65 1150.18,506.65 1152.95,506.65 1155.72,506.65 1158.48,506.65 1161.25,506.65 1164.02,506.65 1166.79,506.65 1169.56,506.65 1172.33,506.65 1175.09,506.65 1177.86,506.65 1180.63,506.65 1183.4,506.65 1186.17,506.65 1188.94,506.65 1191.7,506.65 1194.47,506.65 1197.24,506.65 1200.01,506.65 1202.78,506.65 1205.55,506.65 1208.31,506.65 1211.08,506.65 1213.85,506.65 1216.62,506.65 1219.39,506.65 1222.16,506.65 1224.92,506.65 1227.69,506.64 1230.46,506.64 1233.23,506.64 1236,506.64 1238.77,506.64 1241.53,506.64 1244.3,506.63 1247.07,506.63 1249.84,506.63 1252.61,506.63 1255.38,506.62 1258.14,506.62 1260.91,506.62 1263.68,506.61 1266.45,506.61 1269.22,506.61 1271.99,506.6 1274.75,506.59 1277.52,506.59 1280.29,506.58 1283.06,506.57 1285.83,506.57 1288.6,506.56 1291.36,506.55 1294.13,506.53 1296.9,506.52 1299.67,506.51 1302.44,506.49 1305.21,506.48 1307.97,506.46 1310.74,506.44 1313.51,506.42 1316.28,506.4 1319.05,506.37 1321.82,506.34 1324.58,506.31 1327.35,506.28 1330.12,506.24 1332.89,506.2 1335.66,506.16 1338.43,506.12 1341.19,506.07 1343.96,506.01 1346.73,505.96 1349.5,505.9 1352.27,505.83 1355.04,505.77 1357.8,505.69 1360.57,505.62 1363.34,505.54 1366.11,505.46 1368.88,505.37 1371.65,505.28 1374.41,505.19 1377.18,505.09 1379.95,504.99 1382.72,504.89 1385.49,504.79 1388.26,504.69 1391.02,504.59 1393.79,504.48 1396.56,504.38 1399.33,504.28 1402.1,504.18 1404.87,504.08 1407.63,503.99 1410.4,503.9 1413.17,503.81 1415.94,503.73 1418.71,503.65 1421.48,503.57 1424.24,503.49 1427.01,503.43 1429.78,503.36 1432.55,503.3 1435.32,503.24 1438.08,503.19 1440.85,503.14" fill="none" stroke="#F8C3DA" stroke-width="1.4" opacity="1"/>
<polyline points="1108.65,504.21 1111.42,504.21 1114.19,504.21 1116.96,504.21 1119.73,504.21 1122.5,504.21 1125.26,504.21 1128.03,504.21 1130.8,504.21 1133.57,504.21 1136.34,504.21 1139.11,504.21 1141.87,504.21 1144.64,504.21 1147.41,504.21 1150.18,504.21 1152.95,504.21 1155.72,504.21 1158.48,504.21 1161.25,504.21 1164.02,504.21 1166.79,504.21 1169.56,504.21 1172.33,504.21 1175.09,504.21 1177.86,504.21 1180.63,504.21 1183.4,504.2 1186.17,504.2 1188.94,504.2 1191.7,504.2 1194.47,504.2 1197.24,504.2 1200.01,504.2 1202.78,504.2 1205.55,504.2 1208.31,504.2 1211.08,504.2 1213.85,504.19 1216.62,504.19 1219.39,504.19 1222.16,504.19 1224.92,504.19 1227.69,504.18 1230.46,504.18 1233.23,504.18 1236,504.17 1238.77,504.17 1241.53,504.16 1244.3,504.16 1247.07,504.15 1249.84,504.15 1252.61,504.14 1255.38,504.14 1258.14,504.13 1260.91,504.12 1263.68,504.11 1266.45,504.1 1269.22,504.09 1271.99,504.07 1274.75,504.06 1277.52,504.04 1280.29,504.03 1283.06,504.01 1285.83,503.99 1288.6,503.96 1291.36,503.94 1294.13,503.91 1296.9,503.88 1299.67,503.84 1302.44,503.8 1305.21,503.76 1307.97,503.71 1310.74,503.66 1313.51,503.6 1316.28,503.54 1319.05,503.47 1321.82,503.39 1324.58,503.31 1327.35,503.22 1330.12,503.12 1332.89,503.01 1335.66,502.88 1338.43,502.75 1341.19,502.6 1343.96,502.44 1346.73,502.27 1349.5,502.07 1352.27,501.86 1355.04,501.63 1357.8,501.39 1360.57,501.12 1363.34,500.82 1366.11,500.51 1368.88,500.16 1371.65,499.79 1374.41,499.4 1377.18,498.97 1379.95,498.52 1382.72,498.03 1385.49,497.51 1388.26,496.97 1391.02,496.39 1393.79,495.78 1396.56,495.14 1399.33,494.47 1402.1,493.78 1404.87,493.06 1407.63,492.32 1410.4,491.57 1413.17,490.79 1415.94,490.01 1418.71,489.21 1421.48,488.41 1424.24,487.61 1427.01,486.82 1429.78,486.03 1432.55,485.25 1435.32,484.49 1438.08,483.74 1440.85,483.02" fill="none" stroke="#CC5DA7" stroke-width="1.4" opacity="1"/>
<polyline points="1108.65,505.02 1111.42,505.02 1114.19,505.02 1116.96,505.02 1119.73,505.02 1122.5,505.02 1125.26,505.02 1128.03,505.02 1130.8,505.02 1133.57,505.02 1136.34,505.02 1139.11,505.02 1141.87,505.02 1144.64,505.02 1147.41,505.02 1150.18,505.02 1152.95,505.02 1155.72,505.02 1158.48,505.02 1161.25,505.02 1164.02,505.02 1166.79,505.02 1169.56,505.02 1172.33,505.02 1175.09,505.02 1177.86,505.02 1180.63,505.02 1183.4,505.02 1186.17,505.02 1188.94,505.02 1191.7,505.02 1194.47,505.02 1197.24,505.02 1200.01,505.02 1202.78,505.02 1205.55,505.02 1208.31,505.02 1211.08,505.02 1213.85,505.02 1216.62,505.02 1219.39,505.02 1222.16,505.02 1224.92,505.02 1227.69,505.02 1230.46,505.02 1233.23,505.02 1236,505.02 1238.77,505.02 1241.53,505.02 1244.3,505.02 1247.07,505.02 1249.84,505.02 1252.61,505.02 1255.38,505.02 1258.14,505.02 1260.91,505.02 1263.68,505.02 1266.45,505.02 1269.22,505.02 1271.99,505.01 1274.75,505.01 1277.52,505.01 1280.29,505.01 1283.06,505.01 1285.83,505.01 1288.6,505.01 1291.36,505 1294.13,505 1296.9,505 1299.67,505 1302.44,504.99 1305.21,504.99 1307.97,504.99 1310.74,504.98 1313.51,504.98 1316.28,504.97 1319.05,504.97 1321.82,504.96 1324.58,504.96 1327.35,504.95 1330.12,504.94 1332.89,504.93 1335.66,504.93 1338.43,504.92 1341.19,504.91 1343.96,504.9 1346.73,504.89 1349.5,504.87 1352.27,504.86 1355.04,504.85 1357.8,504.83 1360.57,504.82 1363.34,504.8 1366.11,504.79 1368.88,504.77 1371.65,504.75 1374.41,504.73 1377.18,504.71 1379.95,504.69 1382.72,504.67 1385.49,504.65 1388.26,504.63 1391.02,504.61 1393.79,504.59 1396.56,504.57 1399.33,504.55 1402.1,504.53 1404.87,504.51 1407.63,504.49 1410.4,504.47 1413.17,504.46 1415.94,504.44 1418.71,504.42 1421.48,504.41 1424.24,504.39 1427.01,504.38 1429.78,504.37 1432.55,504.35 1435.32,504.34 1438.08,504.33 1440.85,504.32" fill="none" stroke="#EE1C25" stroke-width="1.4" opacity="1"/>
<circle cx="1108.65" cy="504.21" r="5.4" fill="#000000"/>
<circle cx="1138.85" cy="504.21" r="5.4" fill="#000000"/>
<circle cx="1169.05" cy="504.21" r="5.4" fill="#000000"/>
<circle cx="1199.25" cy="504.21" r="5.4" fill="#000000"/>
<circle cx="1229.45" cy="504.21" r="5.4" fill="#000000"/>
<circle cx="1259.65" cy="504.21" r="5.4" fill="#000000"/>
<circle cx="1289.85" cy="504.21" r="5.4" fill="#000000"/>
<circle cx="1320.05" cy="504.21" r="5.4" fill="#000000"/>
<circle cx="1350.25" cy="503.4" r="5.4" fill="#000000"/>
<circle cx="1380.45" cy="500.95" r="5.4" fill="#000000"/>
<circle cx="1410.65" cy="497.69" r="5.4" fill="#000000"/>
<circle cx="1440.85" cy="489.54" r="5.4" fill="#000000"/>
<circle cx="1108.65" cy="502.58" r="5.4" fill="#6BA0D9"/>
<circle cx="1138.85" cy="502.58" r="5.4" fill="#6BA0D9"/>
<circle cx="1169.05" cy="502.58" r="5.4" fill="#6BA0D9"/>
<circle cx="1199.25" cy="500.95" r="5.4" fill="#6BA0D9"/>
<circle cx="1229.45" cy="496.88" r="5.4" fill="#6BA0D9"/>
<circle cx="1259.65" cy="484.65" r="5.4" fill="#6BA0D9"/>
<circle cx="1289.85" cy="461.83" r="5.4" fill="#6BA0D9"/>
<circle cx="1320.05" cy="439.83" r="5.4" fill="#6BA0D9"/>
<circle cx="1350.25" cy="419.45" r="5.4" fill="#6BA0D9"/>
<path d="M1380.45,403.15V419.45M1375.45,403.15H1385.45M1375.45,419.45H1385.45" stroke="#6BA0D9" stroke-width="1.6" fill="none"/>
<circle cx="1380.45" cy="411.3" r="5.4" fill="#6BA0D9"/>
<path d="M1410.65,399.08V415.38M1405.65,399.08H1415.65M1405.65,415.38H1415.65" stroke="#6BA0D9" stroke-width="1.6" fill="none"/>
<circle cx="1410.65" cy="407.23" r="5.4" fill="#6BA0D9"/>
<path d="M1440.85,398.26V414.56M1435.85,398.26H1445.85M1435.85,414.56H1445.85" stroke="#6BA0D9" stroke-width="1.6" fill="none"/>
<circle cx="1440.85" cy="406.41" r="5.4" fill="#6BA0D9"/>
<circle cx="1108.65" cy="500.95" r="5.4" fill="#F7821F"/>
<circle cx="1138.85" cy="500.14" r="5.4" fill="#F7821F"/>
<circle cx="1169.05" cy="498.5" r="5.4" fill="#F7821F"/>
<circle cx="1199.25" cy="490.36" r="5.4" fill="#F7821F"/>
<circle cx="1229.45" cy="470.8" r="5.4" fill="#F7821F"/>
<path d="M1259.65,421.9V433.31M1254.65,421.9H1264.65M1254.65,433.31H1264.65" stroke="#F7821F" stroke-width="1.6" fill="none"/>
<circle cx="1259.65" cy="427.6" r="5.4" fill="#F7821F"/>
<path d="M1289.85,365.66V381.96M1284.85,365.66H1294.85M1284.85,381.96H1294.85" stroke="#F7821F" stroke-width="1.6" fill="none"/>
<circle cx="1289.85" cy="373.81" r="5.4" fill="#F7821F"/>
<path d="M1320.05,324.91V349.36M1315.05,324.91H1325.05M1315.05,349.36H1325.05" stroke="#F7821F" stroke-width="1.6" fill="none"/>
<circle cx="1320.05" cy="337.13" r="5.4" fill="#F7821F"/>
<path d="M1350.25,284.16V320.02M1345.25,284.16H1355.25M1345.25,320.02H1355.25" stroke="#F7821F" stroke-width="1.6" fill="none"/>
<circle cx="1350.25" cy="302.09" r="5.4" fill="#F7821F"/>
<path d="M1380.45,276.83V328.99M1375.45,276.83H1385.45M1375.45,328.99H1385.45" stroke="#F7821F" stroke-width="1.6" fill="none"/>
<circle cx="1380.45" cy="302.91" r="5.4" fill="#F7821F"/>
<path d="M1410.65,266.23V306.98M1405.65,266.23H1415.65M1405.65,306.98H1415.65" stroke="#F7821F" stroke-width="1.6" fill="none"/>
<circle cx="1410.65" cy="286.61" r="5.4" fill="#F7821F"/>
<path d="M1440.85,265.42V314.31M1435.85,265.42H1445.85M1435.85,314.31H1445.85" stroke="#F7821F" stroke-width="1.6" fill="none"/>
<circle cx="1440.85" cy="289.87" r="5.4" fill="#F7821F"/>
<circle cx="1108.65" cy="502.58" r="5.4" fill="#8888C8"/>
<circle cx="1138.85" cy="502.58" r="5.4" fill="#8888C8"/>
<circle cx="1169.05" cy="502.58" r="5.4" fill="#8888C8"/>
<circle cx="1199.25" cy="500.95" r="5.4" fill="#8888C8"/>
<circle cx="1229.45" cy="495.25" r="5.4" fill="#8888C8"/>
<circle cx="1259.65" cy="482.21" r="5.4" fill="#8888C8"/>
<circle cx="1289.85" cy="458.57" r="5.4" fill="#8888C8"/>
<circle cx="1320.05" cy="437.38" r="5.4" fill="#8888C8"/>
<circle cx="1350.25" cy="421.08" r="5.4" fill="#8888C8"/>
<path d="M1380.45,399.89V419.45M1375.45,399.89H1385.45M1375.45,419.45H1385.45" stroke="#8888C8" stroke-width="1.6" fill="none"/>
<circle cx="1380.45" cy="409.67" r="5.4" fill="#8888C8"/>
<path d="M1410.65,396.63V412.93M1405.65,396.63H1415.65M1405.65,412.93H1415.65" stroke="#8888C8" stroke-width="1.6" fill="none"/>
<circle cx="1410.65" cy="404.78" r="5.4" fill="#8888C8"/>
<path d="M1440.85,396.63V412.93M1435.85,396.63H1445.85M1435.85,412.93H1445.85" stroke="#8888C8" stroke-width="1.6" fill="none"/>
<circle cx="1440.85" cy="404.78" r="5.4" fill="#8888C8"/>
<circle cx="1108.65" cy="500.95" r="5.4" fill="#946326"/>
<circle cx="1138.85" cy="500.14" r="5.4" fill="#946326"/>
<circle cx="1169.05" cy="498.5" r="5.4" fill="#946326"/>
<circle cx="1199.25" cy="490.36" r="5.4" fill="#946326"/>
<circle cx="1229.45" cy="474.06" r="5.4" fill="#946326"/>
<path d="M1259.65,432.49V448.79M1254.65,432.49H1264.65M1254.65,448.79H1264.65" stroke="#946326" stroke-width="1.6" fill="none"/>
<circle cx="1259.65" cy="440.64" r="5.4" fill="#946326"/>
<path d="M1289.85,393.37V404.78M1284.85,393.37H1294.85M1284.85,404.78H1294.85" stroke="#946326" stroke-width="1.6" fill="none"/>
<circle cx="1289.85" cy="399.08" r="5.4" fill="#946326"/>
<path d="M1320.05,364.03V380.33M1315.05,364.03H1325.05M1315.05,380.33H1325.05" stroke="#946326" stroke-width="1.6" fill="none"/>
<circle cx="1320.05" cy="372.18" r="5.4" fill="#946326"/>
<path d="M1350.25,344.47V360.77M1345.25,344.47H1355.25M1345.25,360.77H1355.25" stroke="#946326" stroke-width="1.6" fill="none"/>
<circle cx="1350.25" cy="352.62" r="5.4" fill="#946326"/>
<path d="M1380.45,341.21V365.66M1375.45,341.21H1385.45M1375.45,365.66H1385.45" stroke="#946326" stroke-width="1.6" fill="none"/>
<circle cx="1380.45" cy="353.44" r="5.4" fill="#946326"/>
<circle cx="1410.65" cy="360.77" r="5.4" fill="#946326"/>
<path d="M1440.85,350.18V366.48M1435.85,350.18H1445.85M1435.85,366.48H1445.85" stroke="#946326" stroke-width="1.6" fill="none"/>
<circle cx="1440.85" cy="358.33" r="5.4" fill="#946326"/>
<circle cx="1108.65" cy="504.21" r="5.4" fill="#2DB34A"/>
<circle cx="1138.85" cy="504.21" r="5.4" fill="#2DB34A"/>
<circle cx="1169.05" cy="504.21" r="5.4" fill="#2DB34A"/>
<circle cx="1199.25" cy="504.21" r="5.4" fill="#2DB34A"/>
<circle cx="1229.45" cy="504.21" r="5.4" fill="#2DB34A"/>
<circle cx="1259.65" cy="504.21" r="5.4" fill="#2DB34A"/>
<circle cx="1289.85" cy="504.21" r="5.4" fill="#2DB34A"/>
<circle cx="1320.05" cy="504.21" r="5.4" fill="#2DB34A"/>
<circle cx="1350.25" cy="503.4" r="5.4" fill="#2DB34A"/>
<circle cx="1380.45" cy="501.77" r="5.4" fill="#2DB34A"/>
<circle cx="1410.65" cy="498.5" r="5.4" fill="#2DB34A"/>
<circle cx="1440.85" cy="493.62" r="5.4" fill="#2DB34A"/>
<circle cx="1108.65" cy="502.58" r="5.4" fill="#7B2583"/>
<circle cx="1138.85" cy="502.58" r="5.4" fill="#7B2583"/>
<circle cx="1169.05" cy="502.58" r="5.4" fill="#7B2583"/>
<circle cx="1199.25" cy="500.95" r="5.4" fill="#7B2583"/>
<circle cx="1229.45" cy="496.88" r="5.4" fill="#7B2583"/>
<circle cx="1259.65" cy="485.47" r="5.4" fill="#7B2583"/>
<circle cx="1289.85" cy="463.46" r="5.4" fill="#7B2583"/>
<path d="M1320.05,438.2V451.24M1315.05,438.2H1325.05M1315.05,451.24H1325.05" stroke="#7B2583" stroke-width="1.6" fill="none"/>
<circle cx="1320.05" cy="444.72" r="5.4" fill="#7B2583"/>
<circle cx="1350.25" cy="426.79" r="5.4" fill="#7B2583"/>
<path d="M1380.45,395.81V420.27M1375.45,395.81H1385.45M1375.45,420.27H1385.45" stroke="#7B2583" stroke-width="1.6" fill="none"/>
<circle cx="1380.45" cy="408.04" r="5.4" fill="#7B2583"/>
<path d="M1410.65,395.82V415.38M1405.65,395.82H1415.65M1405.65,415.38H1415.65" stroke="#7B2583" stroke-width="1.6" fill="none"/>
<circle cx="1410.65" cy="405.6" r="5.4" fill="#7B2583"/>
<path d="M1440.85,375.44V404.78M1435.85,375.44H1445.85M1435.85,404.78H1445.85" stroke="#7B2583" stroke-width="1.6" fill="none"/>
<circle cx="1440.85" cy="390.11" r="5.4" fill="#7B2583"/>
<circle cx="1108.65" cy="507.47" r="5.4" fill="#F8C3DA"/>
<circle cx="1138.85" cy="505.03" r="5.4" fill="#F8C3DA"/>
<circle cx="1169.05" cy="505.03" r="5.4" fill="#F8C3DA"/>
<circle cx="1199.25" cy="505.03" r="5.4" fill="#F8C3DA"/>
<circle cx="1229.45" cy="505.03" r="5.4" fill="#F8C3DA"/>
<circle cx="1259.65" cy="505.03" r="5.4" fill="#F8C3DA"/>
<circle cx="1289.85" cy="505.03" r="5.4" fill="#F8C3DA"/>
<circle cx="1320.05" cy="505.03" r="5.4" fill="#F8C3DA"/>
<circle cx="1350.25" cy="505.03" r="5.4" fill="#F8C3DA"/>
<circle cx="1380.45" cy="505.03" r="5.4" fill="#F8C3DA"/>
<circle cx="1410.65" cy="504.21" r="5.4" fill="#F8C3DA"/>
<circle cx="1440.85" cy="503.4" r="5.4" fill="#F8C3DA"/>
<circle cx="1108.65" cy="503.4" r="5.4" fill="#CC5DA7"/>
<circle cx="1138.85" cy="503.4" r="5.4" fill="#CC5DA7"/>
<circle cx="1169.05" cy="503.4" r="5.4" fill="#CC5DA7"/>
<circle cx="1199.25" cy="503.4" r="5.4" fill="#CC5DA7"/>
<circle cx="1229.45" cy="503.4" r="5.4" fill="#CC5DA7"/>
<circle cx="1259.65" cy="503.4" r="5.4" fill="#CC5DA7"/>
<circle cx="1289.85" cy="502.58" r="5.4" fill="#CC5DA7"/>
<circle cx="1320.05" cy="501.77" r="5.4" fill="#CC5DA7"/>
<circle cx="1350.25" cy="499.32" r="5.4" fill="#CC5DA7"/>
<circle cx="1380.45" cy="496.88" r="5.4" fill="#CC5DA7"/>
<circle cx="1410.65" cy="491.99" r="5.4" fill="#CC5DA7"/>
<circle cx="1440.85" cy="480.58" r="5.4" fill="#CC5DA7"/>
<circle cx="1108.65" cy="504.21" r="5.4" fill="#EE1C25"/>
<circle cx="1138.85" cy="505.03" r="5.4" fill="#EE1C25"/>
<circle cx="1169.05" cy="505.03" r="5.4" fill="#EE1C25"/>
<circle cx="1199.25" cy="505.03" r="5.4" fill="#EE1C25"/>
<circle cx="1229.45" cy="505.03" r="5.4" fill="#EE1C25"/>
<circle cx="1259.65" cy="505.03" r="5.4" fill="#EE1C25"/>
<circle cx="1289.85" cy="505.03" r="5.4" fill="#EE1C25"/>
<circle cx="1320.05" cy="505.03" r="5.4" fill="#EE1C25"/>
<circle cx="1350.25" cy="505.03" r="5.4" fill="#EE1C25"/>
<circle cx="1380.45" cy="504.21" r="5.4" fill="#EE1C25"/>
<circle cx="1410.65" cy="503.4" r="5.4" fill="#EE1C25"/>
<circle cx="1440.85" cy="500.95" r="5.4" fill="#EE1C25"/>
</g>
<path d="M1073,262.6V519.5M1071,517.5H1487.1" stroke="#000" stroke-width="4" fill="none"/>
<line x1="1061.5" y1="509.1" x2="1073" y2="509.1" stroke="#000" stroke-width="4" />
<text transform="translate(1040.96,520.3) scale(0.92,1)" font-size="32.8" font-weight="bold" fill="#000">0</text>
<line x1="1061.5" y1="427.6" x2="1073" y2="427.6" stroke="#000" stroke-width="4" />
<text transform="translate(1040.56,438.8) scale(0.92,1)" font-size="32.8" font-weight="bold" fill="#000">1</text>
<line x1="1061.5" y1="346.1" x2="1073" y2="346.1" stroke="#000" stroke-width="4" />
<text transform="translate(1040.93,357.3) scale(0.92,1)" font-size="32.8" font-weight="bold" fill="#000">2</text>
<line x1="1061.5" y1="264.6" x2="1073" y2="264.6" stroke="#000" stroke-width="4" />
<text transform="translate(1040.81,275.8) scale(0.92,1)" font-size="32.8" font-weight="bold" fill="#000">3</text>
<line x1="1105.3" y1="517.5" x2="1105.3" y2="529" stroke="#000" stroke-width="4" />
<text transform="translate(1090.38,561.5) scale(0.92,1)" font-size="32.8" font-weight="bold" fill="#000">-4</text>
<line x1="1168.6" y1="517.5" x2="1168.6" y2="529" stroke="#000" stroke-width="4" />
<text transform="translate(1154.14,561.5) scale(0.92,1)" font-size="32.8" font-weight="bold" fill="#000">-3</text>
<line x1="1231.9" y1="517.5" x2="1231.9" y2="529" stroke="#000" stroke-width="4" />
<text transform="translate(1217.5,561.5) scale(0.92,1)" font-size="32.8" font-weight="bold" fill="#000">-2</text>
<line x1="1295.2" y1="517.5" x2="1295.2" y2="529" stroke="#000" stroke-width="4" />
<text transform="translate(1280.61,561.5) scale(0.92,1)" font-size="32.8" font-weight="bold" fill="#000">-1</text>
<line x1="1358.5" y1="517.5" x2="1358.5" y2="529" stroke="#000" stroke-width="4" />
<text transform="translate(1350.13,561.5) scale(0.92,1)" font-size="32.8" font-weight="bold" fill="#000">0</text>
<line x1="1421.8" y1="517.5" x2="1421.8" y2="529" stroke="#000" stroke-width="4" />
<text transform="translate(1412.88,561.5) scale(0.92,1)" font-size="32.8" font-weight="bold" fill="#000">1</text>
<line x1="1485.1" y1="517.5" x2="1485.1" y2="529" stroke="#000" stroke-width="4" />
<text transform="translate(1476.79,561.5) scale(0.92,1)" font-size="32.8" font-weight="bold" fill="#000">2</text>
<g transform="translate(1022,439.3) rotate(-90) scale(0.29,0.3) translate(-4.1,0)">
<text font-size="100" font-weight="bold">OD<tspan font-size="72.4" dy="21.0">405 nm</tspan></text></g>
<g transform="translate(1175.3,603.6) scale(0.28,0.28) translate(-6.74,0)">
<text font-size="100">log<tspan font-size="74.0" dy="24">10</tspan><tspan dy="-24">[mAb] µg/ml</tspan></text></g>
<text transform="translate(0.03,750) scale(1.02,1)" font-size="29.07" font-weight="bold" fill="#000" >B</text>
<text transform="translate(-1.79,812.2) scale(0.66,1)" font-size="49.5" font-weight="normal" fill="#000">E</text>
<text transform="translate(20.28,812.2) scale(0.76,1)" font-size="49.5" font-weight="normal" fill="#000">C</text>
<text transform="translate(47.54,812.2) scale(0.84,1)" font-size="49.5" font-weight="normal" fill="#000">5</text>
<text transform="translate(70.99,812.2) scale(0.88,1)" font-size="49.5" font-weight="normal" fill="#000">0</text>
<text transform="translate(105.97,812.2) scale(0.66,1)" font-size="49.5" font-weight="normal" fill="#000">(</text>
<text transform="translate(117.98,812.2) scale(0.92,1)" font-size="49.5" font-weight="normal" fill="#000">n</text>
<text transform="translate(143.53,812.2) scale(0.95,1)" font-size="49.5" font-weight="normal" fill="#000">g</text>
<text transform="translate(170.3,812.2) scale(1.09,1)" font-size="49.5" font-weight="normal" fill="#000">/</text>
<text transform="translate(185.53,812.2) scale(0.93,1)" font-size="49.5" font-weight="normal" fill="#000">m</text>
<text transform="translate(223.6,812.2) scale(0.84,1)" font-size="49.5" font-weight="normal" fill="#000">L</text>
<text transform="translate(246.98,812.2) scale(0.75,1)" font-size="49.5" font-weight="normal" fill="#000">)</text>
<text transform="translate(6.06,892) scale(0.9,1)" font-size="47.8" font-weight="normal" fill="#000">3</text>
<text transform="translate(30.96,892) scale(0.98,1)" font-size="47.8" font-weight="normal" fill="#000">0</text>
<text transform="translate(57.09,892) scale(0.97,1)" font-size="47.8" font-weight="normal" fill="#000">0</text>
<path d="M42,1392.3V1426.8H37.5V1398.2L32.0,1401.2L30.6,1397.4L38.4,1392.3Z" fill="#000"/>
<text transform="translate(51.1,1426.9) scale(0.99,1)" font-size="49" font-weight="normal" fill="#000">0</text>
<defs><linearGradient id="cb" x1="0" y1="0" x2="0" y2="1"><stop offset="0" stop-color="#FFEA96"/><stop offset="0.1" stop-color="#F3E88E"/><stop offset="0.2" stop-color="#DDE18A"/><stop offset="0.3" stop-color="#C0DA86"/><stop offset="0.4" stop-color="#A3D180"/><stop offset="0.5" stop-color="#84C876"/><stop offset="0.57" stop-color="#72C26F"/><stop offset="0.7" stop-color="#6EBD63"/><stop offset="0.85" stop-color="#6CB356"/><stop offset="1" stop-color="#6AAA47"/></linearGradient></defs>
<rect x="108" y="848" width="48.5" height="564.5" fill="url(#cb)"/>
<rect x="775.4" y="881" width="180.8" height="55.5" fill="#7AB34A"/>
<rect x="956.2" y="881" width="180.9" height="55.5" fill="#95BF5B"/>
<rect x="1137.1" y="881" width="180.9" height="55.5" fill="#A6A6A6"/>
<rect x="775.4" y="936.5" width="180.8" height="53.9" fill="#72AE45"/>
<rect x="956.2" y="936.5" width="180.9" height="53.9" fill="#71AD45"/>
<rect x="1137.1" y="936.5" width="180.9" height="53.9" fill="#A6A6A6"/>
<rect x="775.4" y="990.4" width="180.8" height="53.6" fill="#74AF46"/>
<rect x="956.2" y="990.4" width="180.9" height="53.6" fill="#77B148"/>
<rect x="1137.1" y="990.4" width="180.9" height="53.6" fill="#A6A6A6"/>
<rect x="775.4" y="1044" width="180.8" height="54" fill="#A4C764"/>
<rect x="956.2" y="1044" width="180.9" height="54" fill="#7BB34B"/>
<rect x="1137.1" y="1044" width="180.9" height="54" fill="#DDE086"/>
<rect x="775.4" y="1098" width="180.8" height="54.1" fill="#9CC35E"/>
<rect x="956.2" y="1098" width="180.9" height="54.1" fill="#89BA54"/>
<rect x="1137.1" y="1098" width="180.9" height="54.1" fill="#A6A6A6"/>
<rect x="775.4" y="1152.1" width="180.8" height="55.3" fill="#76B047"/>
<rect x="956.2" y="1152.1" width="180.9" height="55.3" fill="#A6A6A6"/>
<rect x="1137.1" y="1152.1" width="180.9" height="55.3" fill="#78B148"/>
<rect x="775.4" y="1207.4" width="180.8" height="53.6" fill="#A6A6A6"/>
<rect x="956.2" y="1207.4" width="180.9" height="53.6" fill="#A6A6A6"/>
<rect x="1137.1" y="1207.4" width="180.9" height="53.6" fill="#A5C865"/>
<rect x="775.4" y="1261" width="180.8" height="54" fill="#A6A6A6"/>
<rect x="956.2" y="1261" width="180.9" height="54" fill="#A6A6A6"/>
<rect x="1137.1" y="1261" width="180.9" height="54" fill="#80B54D"/>
<rect x="775.4" y="1315" width="180.8" height="53.9" fill="#FFEE9C"/>
<rect x="956.2" y="1315" width="180.9" height="53.9" fill="#A6A6A6"/>
<rect x="1137.1" y="1315" width="180.9" height="53.9" fill="#B6D06D"/>
<rect x="775.4" y="1368.9" width="180.8" height="53.6" fill="#A6A6A6"/>
<rect x="956.2" y="1368.9" width="180.9" height="53.6" fill="#A6A6A6"/>
<rect x="1137.1" y="1368.9" width="180.9" height="53.6" fill="#A6A6A6"/>
<path d="M323.6,786H1319M323.6,881H1319M323.6,936.5H1319M323.6,990.4H1319M323.6,1044H1319M323.6,1098H1319M323.6,1152.1H1319M323.6,1207.4H1319M323.6,1261H1319M323.6,1315H1319M323.6,1368.9H1319M323.6,1422.5H1319M324.6,785V1423.5M550.3,785V1423.5M775.4,785V1423.5M956.2,785V1423.5M1137.1,785V1423.5M1318,785V1423.5" stroke="#000" stroke-width="2.0" fill="none"/>
<text transform="translate(327.84,848) scale(0.97,1)" font-size="34.8" font-weight="bold" fill="#000">EC50 (ng/mL)</text>
<text transform="translate(552.66,846.3) scale(0.97,1)" font-size="34.8" font-weight="bold" fill="#000">Antigenic site</text>
<text transform="translate(806.59,845.4) scale(0.91,1)" font-size="33.2" font-weight="bold" fill="#000">RHMS-1</text>
<text transform="translate(977.27,824.2) scale(0.92,1)" font-size="33.2" font-weight="bold" fill="#000">RSV A2 F</text>
<text transform="translate(990.01,865.6) scale(0.89,1)" font-size="33.2" font-weight="bold" fill="#000">DsCav1</text>
<text transform="translate(1156.16,824.2) scale(0.92,1)" font-size="33.2" font-weight="bold" fill="#000">MPV B2 F</text>
<text transform="translate(1158.02,865.6) scale(0.9,1)" font-size="33.2" font-weight="bold" fill="#000">monomer</text>
<text transform="translate(405.51,927.6) scale(0.98,1)" font-size="34.8" font-weight="bold" fill="#000">D25</text>
<text transform="translate(608.9,927.6) scale(0.99,1)" font-size="34.8" font-weight="bold" fill="#000">RSV Ø</text>
<text transform="translate(850.74,927.6) scale(0.93,1)" font-size="31.6" font-weight="normal" fill="#000">45</text>
<text transform="translate(1031.29,927.6) scale(0.93,1)" font-size="31.6" font-weight="normal" fill="#000">72</text>
<text transform="translate(372.41,983.1) scale(0.98,1)" font-size="34.8" font-weight="bold" fill="#000">hRSV90</text>
<text transform="translate(610.41,983.1) scale(0.98,1)" font-size="34.8" font-weight="bold" fill="#000">RSV V</text>
<text transform="translate(850.36,983.1) scale(0.93,1)" font-size="31.6" font-weight="normal" fill="#000">28</text>
<text transform="translate(1031.31,983.1) scale(0.93,1)" font-size="31.6" font-weight="normal" fill="#000">22</text>
<text transform="translate(330.03,1037) scale(0.97,1)" font-size="34.8" font-weight="bold" fill="#000">Motavizumab</text>
<text transform="translate(611.88,1037) scale(1,1)" font-size="34.8" font-weight="bold" fill="#000">RSV II</text>
<text transform="translate(850.64,1037) scale(0.93,1)" font-size="31.6" font-weight="normal" fill="#000">32</text>
<text transform="translate(1031.38,1037) scale(0.93,1)" font-size="31.6" font-weight="normal" fill="#000">38</text>
<text transform="translate(398.6,1090.6) scale(0.96,1)" font-size="34.8" font-weight="bold" fill="#000">101F</text>
<text transform="translate(553.43,1090.6) scale(0.98,1)" font-size="34.8" font-weight="bold" fill="#000">RSV/hMPV IV</text>
<text transform="translate(850.46,1090.6) scale(0.93,1)" font-size="31.6" font-weight="normal" fill="#000">99</text>
<text transform="translate(1031.61,1090.6) scale(0.93,1)" font-size="31.6" font-weight="normal" fill="#000">48</text>
<text transform="translate(1203.65,1090.6) scale(0.93,1)" font-size="31.6" font-weight="normal" fill="#000">177</text>
<text transform="translate(391.05,1144.6) scale(0.97,1)" font-size="34.8" font-weight="bold" fill="#000">MPE8</text>
<text transform="translate(557.43,1144.6) scale(0.98,1)" font-size="34.8" font-weight="bold" fill="#000">RSV/hMPV III</text>
<text transform="translate(850.46,1144.6) scale(0.93,1)" font-size="31.6" font-weight="normal" fill="#000">86</text>
<text transform="translate(1030.99,1144.6) scale(0.93,1)" font-size="31.6" font-weight="normal" fill="#000">64</text>
<text transform="translate(372.51,1198.7) scale(0.98,1)" font-size="34.8" font-weight="bold" fill="#000">MPV196</text>
<text transform="translate(559.55,1198.7) scale(0.97,1)" font-size="34.8" font-weight="bold" fill="#000">hMPV III/DS7</text>
<text transform="translate(850.33,1198.7) scale(0.93,1)" font-size="31.6" font-weight="normal" fill="#000">34</text>
<text transform="translate(1212.29,1198.7) scale(0.93,1)" font-size="31.6" font-weight="normal" fill="#000">36</text>
<text transform="translate(372.54,1254) scale(0.97,1)" font-size="34.8" font-weight="bold" fill="#000">MPV364</text>
<text transform="translate(596.42,1254) scale(0.98,1)" font-size="34.8" font-weight="bold" fill="#000">hMPV III</text>
<text transform="translate(1203.53,1254) scale(0.93,1)" font-size="31.6" font-weight="normal" fill="#000">105</text>
<text transform="translate(372.53,1307.6) scale(0.98,1)" font-size="34.8" font-weight="bold" fill="#000">MPV458</text>
<text transform="translate(568.75,1307.6) scale(0.97,1)" font-size="34.8" font-weight="bold" fill="#000">hMPV 66-87</text>
<text transform="translate(1212.23,1307.6) scale(0.93,1)" font-size="31.6" font-weight="normal" fill="#000">55</text>
<text transform="translate(404.68,1361.6) scale(0.96,1)" font-size="34.8" font-weight="bold" fill="#000">DS7</text>
<text transform="translate(578.96,1361.6) scale(0.96,1)" font-size="34.8" font-weight="bold" fill="#000">hMPV DS7</text>
<text transform="translate(842.18,1361.6) scale(0.93,1)" font-size="31.6" font-weight="normal" fill="#000">238</text>
<text transform="translate(1203.65,1361.6) scale(0.93,1)" font-size="31.6" font-weight="normal" fill="#000">127</text>
<text transform="translate(393.2,1415.5) scale(0.99,1)" font-size="34.8" font-weight="bold" fill="#000">Ply43</text>
<text transform="translate(600.55,1415.5) scale(0.97,1)" font-size="34.8" font-weight="bold" fill="#000">Neg ctrl</text>
<text transform="translate(0.28,1538.81) scale(1,1)" font-size="29.94" font-weight="bold" fill="#000" >C</text>
<path d="M205.8,1538.3H215.6M233.6,1538.3H243.4" stroke="#8C4BA6" stroke-width="6.6" stroke-linecap="round" fill="none"/>
<text transform="translate(271.82,1551) scale(0.97,1)" font-size="35.5" font-weight="normal" fill="#000">hMPV F 130BV</text>
<path d="M650.4,1538.3H660.2M678.5,1538.3H688.3" stroke="#F68B28" stroke-width="6.6" stroke-linecap="round" fill="none"/>
<text transform="translate(715.62,1551) scale(0.96,1)" font-size="35.5" font-weight="normal" fill="#000">RSV F DsCav1</text>
<path d="M1081.7,1538.3H1091.5M1110,1538.3H1119.8" stroke="#4E5AB5" stroke-width="6.6" stroke-linecap="round" fill="none"/>
<text transform="translate(1148.07,1551) scale(0.94,1)" font-size="35.5" font-weight="normal" fill="#000">RHMS-1</text>
<text transform="translate(266.27,1661.91) scale(0.97,1)" font-size="29.94" font-weight="bold" fill="#000" >MPE8</text>
<path d="M135.1,1691.8V1921.8M135.1,1921.8H478.6" stroke="#000" stroke-width="2.3" fill="none"/>
<line x1="125.6" y1="1921.8" x2="135.1" y2="1921.8" stroke="#000" stroke-width="2.3" />
<text transform="translate(99.35,1928.3) scale(0.95,1)" font-size="18.3" font-weight="bold" fill="#000">0.0</text>
<line x1="125.6" y1="1864.6" x2="135.1" y2="1864.6" stroke="#000" stroke-width="2.3" />
<text transform="translate(99.12,1871.1) scale(0.95,1)" font-size="18.3" font-weight="bold" fill="#000">0.5</text>
<line x1="125.6" y1="1807.4" x2="135.1" y2="1807.4" stroke="#000" stroke-width="2.3" />
<text transform="translate(99.35,1813.9) scale(0.95,1)" font-size="18.3" font-weight="bold" fill="#000">1.0</text>
<line x1="125.6" y1="1750.2" x2="135.1" y2="1750.2" stroke="#000" stroke-width="2.3" />
<text transform="translate(99.12,1756.7) scale(0.95,1)" font-size="18.3" font-weight="bold" fill="#000">1.5</text>
<line x1="125.6" y1="1693" x2="135.1" y2="1693" stroke="#000" stroke-width="2.3" />
<text transform="translate(99.35,1699.5) scale(0.95,1)" font-size="18.3" font-weight="bold" fill="#000">2.0</text>
<line x1="135.1" y1="1921.8" x2="135.1" y2="1931.6" stroke="#000" stroke-width="2.3" />
<text transform="translate(120.35,1950.1) scale(0.95,1)" font-size="18.3" font-weight="bold" fill="#000">200</text>
<line x1="184" y1="1921.8" x2="184" y2="1926.8" stroke="#000" stroke-width="2.3" />
<line x1="232.9" y1="1921.8" x2="232.9" y2="1931.6" stroke="#000" stroke-width="2.3" />
<text transform="translate(218.32,1950.1) scale(0.95,1)" font-size="18.3" font-weight="bold" fill="#000">400</text>
<line x1="281.8" y1="1921.8" x2="281.8" y2="1926.8" stroke="#000" stroke-width="2.3" />
<line x1="330.7" y1="1921.8" x2="330.7" y2="1931.6" stroke="#000" stroke-width="2.3" />
<text transform="translate(315.94,1950.1) scale(0.95,1)" font-size="18.3" font-weight="bold" fill="#000">600</text>
<line x1="379.6" y1="1921.8" x2="379.6" y2="1926.8" stroke="#000" stroke-width="2.3" />
<line x1="428.5" y1="1921.8" x2="428.5" y2="1931.6" stroke="#000" stroke-width="2.3" />
<text transform="translate(413.78,1950.1) scale(0.95,1)" font-size="18.3" font-weight="bold" fill="#000">800</text>
<line x1="477.4" y1="1921.8" x2="477.4" y2="1926.8" stroke="#000" stroke-width="2.3" />
<line x1="301.36" y1="1693" x2="301.36" y2="1921.8" stroke="#000" stroke-width="1.7" stroke-dasharray="1.8 5.1"/>
<path d="M154.66,1921.8C156.13,1917.03 160.53,1902.16 163.46,1893.2C166.4,1884.24 168.43,1876.99 172.26,1868.03C176.09,1859.07 180.33,1848.01 186.44,1839.43C192.56,1830.85 200.95,1822.08 208.94,1816.55C216.93,1811.02 224.02,1808.93 234.37,1806.26C244.72,1803.59 259.88,1801.87 271.04,1800.54C282.21,1799.2 289.79,1798.44 301.36,1798.25C312.93,1798.06 327.44,1799.2 340.48,1799.39C353.52,1799.58 361.67,1799.2 379.6,1799.39C397.53,1799.58 436.65,1800.35 448.06,1800.54" fill="none" stroke="#4E5AB5" stroke-width="4.3" stroke-dasharray="5.4 10.9" stroke-linecap="round"/>
<path d="M154.66,1921.8C156.13,1917.03 160.53,1903.69 163.46,1893.2C166.4,1882.71 168.43,1872.04 172.26,1858.88C176.09,1845.72 180.82,1827.8 186.44,1814.26C192.07,1800.73 199,1788.33 206,1777.66C213.01,1766.98 220.02,1757.64 228.5,1750.2C236.97,1742.76 247.98,1737.43 256.86,1733.04C265.74,1728.65 274.38,1726.18 281.8,1723.89C289.22,1721.6 291.5,1719.88 301.36,1719.31C311.22,1718.74 327.93,1720.07 340.97,1720.46C354.01,1720.84 361.75,1721.22 379.6,1721.6C397.45,1721.98 436.65,1722.55 448.06,1722.74" fill="none" stroke="#F68B28" stroke-width="4.3" stroke-dasharray="5.4 10.9" stroke-linecap="round"/>
<path d="M154.66,1921.8C157.59,1917.03 164.6,1901.21 172.26,1893.2C179.93,1885.19 190.28,1878.9 200.63,1873.75C210.98,1868.6 222.63,1865.17 234.37,1862.31C246.1,1859.45 259.88,1858.5 271.04,1856.59C282.21,1854.69 291.99,1851.06 301.36,1850.87C310.73,1850.68 315.95,1854.3 327.28,1855.45C338.61,1856.59 355.72,1857.16 369.33,1857.74C382.94,1858.31 395.82,1858.69 408.94,1858.88C422.06,1859.07 441.54,1858.88 448.06,1858.88" fill="none" stroke="#8C4BA6" stroke-width="4.3" stroke-dasharray="5.4 10.9" stroke-linecap="round"/>
<text transform="translate(275.47,1977.9) scale(0.99,1)" font-size="19.2" font-weight="bold" fill="#000">time(s)</text>
<text transform="translate(87,1827.7) rotate(-90) scale(0.87,1)" font-size="20.93" font-weight="bold" fill="#000">mAu</text>
<text transform="translate(734.77,1659.13) scale(1.04,1)" font-size="27.82" font-weight="bold" fill="#000" >101F</text>
<path d="M594.9,1690.5V1921.5M594.9,1921.5H940.5" stroke="#000" stroke-width="2.3" fill="none"/>
<line x1="585.4" y1="1921.5" x2="594.9" y2="1921.5" stroke="#000" stroke-width="2.3" />
<text transform="translate(557.75,1928) scale(0.95,1)" font-size="18.3" font-weight="bold" fill="#000">0.0</text>
<line x1="585.4" y1="1864.05" x2="594.9" y2="1864.05" stroke="#000" stroke-width="2.3" />
<text transform="translate(557.52,1870.55) scale(0.95,1)" font-size="18.3" font-weight="bold" fill="#000">0.5</text>
<line x1="585.4" y1="1806.6" x2="594.9" y2="1806.6" stroke="#000" stroke-width="2.3" />
<text transform="translate(557.75,1813.1) scale(0.95,1)" font-size="18.3" font-weight="bold" fill="#000">1.0</text>
<line x1="585.4" y1="1749.15" x2="594.9" y2="1749.15" stroke="#000" stroke-width="2.3" />
<text transform="translate(557.52,1755.65) scale(0.95,1)" font-size="18.3" font-weight="bold" fill="#000">1.5</text>
<line x1="585.4" y1="1691.7" x2="594.9" y2="1691.7" stroke="#000" stroke-width="2.3" />
<text transform="translate(557.75,1698.2) scale(0.95,1)" font-size="18.3" font-weight="bold" fill="#000">2.0</text>
<line x1="594.9" y1="1921.5" x2="594.9" y2="1931.3" stroke="#000" stroke-width="2.3" />
<text transform="translate(580.15,1949.8) scale(0.95,1)" font-size="18.3" font-weight="bold" fill="#000">200</text>
<line x1="644.1" y1="1921.5" x2="644.1" y2="1926.5" stroke="#000" stroke-width="2.3" />
<line x1="693.3" y1="1921.5" x2="693.3" y2="1931.3" stroke="#000" stroke-width="2.3" />
<text transform="translate(678.72,1949.8) scale(0.95,1)" font-size="18.3" font-weight="bold" fill="#000">400</text>
<line x1="742.5" y1="1921.5" x2="742.5" y2="1926.5" stroke="#000" stroke-width="2.3" />
<line x1="791.7" y1="1921.5" x2="791.7" y2="1931.3" stroke="#000" stroke-width="2.3" />
<text transform="translate(776.94,1949.8) scale(0.95,1)" font-size="18.3" font-weight="bold" fill="#000">600</text>
<line x1="840.9" y1="1921.5" x2="840.9" y2="1926.5" stroke="#000" stroke-width="2.3" />
<line x1="890.1" y1="1921.5" x2="890.1" y2="1931.3" stroke="#000" stroke-width="2.3" />
<text transform="translate(875.38,1949.8) scale(0.95,1)" font-size="18.3" font-weight="bold" fill="#000">800</text>
<line x1="939.3" y1="1921.5" x2="939.3" y2="1926.5" stroke="#000" stroke-width="2.3" />
<line x1="762.18" y1="1691.7" x2="762.18" y2="1921.5" stroke="#000" stroke-width="1.7" stroke-dasharray="1.8 5.1"/>
<path d="M614.58,1921.5C616.63,1913.46 622.53,1889.52 626.88,1873.24C631.23,1856.96 636.06,1838.01 640.66,1823.84C645.25,1809.66 648.86,1796.83 654.43,1788.22C660.01,1779.6 663.78,1775.77 674.11,1772.13C684.44,1768.49 701.83,1767.73 716.42,1766.38C731.02,1765.04 747.67,1761.21 761.69,1764.09C775.71,1766.96 787.35,1779.79 800.56,1783.62C813.76,1787.45 823.11,1785.73 840.9,1787.07C858.69,1788.41 896.25,1790.9 907.32,1791.66" fill="none" stroke="#4E5AB5" stroke-width="4.3" stroke-dasharray="5.4 10.9" stroke-linecap="round"/>
<path d="M614.58,1921.5C616.63,1913.84 623.03,1890.09 626.88,1875.54C630.73,1860.99 634.01,1846.24 637.7,1834.18C641.39,1822.11 644.35,1812.54 649.02,1803.15C653.69,1793.77 659.19,1785.92 665.75,1777.88C672.31,1769.83 679.93,1761.6 688.38,1754.89C696.83,1748.19 707.4,1742.06 716.42,1737.66C725.44,1733.26 734.96,1730.77 742.5,1728.47C750.04,1726.17 755.13,1724.26 761.69,1723.87C768.25,1723.49 775.38,1725.4 781.86,1726.17C788.34,1726.94 790.72,1728.28 800.56,1728.47C810.4,1728.66 822.86,1727.51 840.9,1727.32C858.94,1727.13 897.48,1727.32 908.8,1727.32" fill="none" stroke="#F68B28" stroke-width="4.3" stroke-dasharray="5.4 10.9" stroke-linecap="round"/>
<path d="M614.58,1921.5C616.63,1913.46 622.53,1888.94 626.88,1873.24C631.23,1857.54 636.06,1838.96 640.66,1827.28C645.25,1815.6 648.86,1810.05 654.43,1803.15C660.01,1796.26 663.78,1790.51 674.11,1785.92C684.44,1781.32 701.83,1777.88 716.42,1775.58C731.02,1773.28 747.67,1770.41 761.69,1772.13C775.71,1773.85 787.35,1783.05 800.56,1785.92C813.76,1788.79 823.11,1788.02 840.9,1789.37C858.69,1790.71 896.25,1793.19 907.32,1793.96" fill="none" stroke="#8C4BA6" stroke-width="4.3" stroke-dasharray="5.4 10.9" stroke-linecap="round"/>
<text transform="translate(749.09,1977.6) scale(0.91,1)" font-size="19.2" font-weight="bold" fill="#000">time</text>
<text transform="translate(546.8,1826.9) rotate(-90) scale(0.87,1)" font-size="20.93" font-weight="bold" fill="#000">mAu</text>
<text transform="translate(1219.02,1658.03) scale(1.09,1)" font-size="27.26" font-weight="bold" fill="#000" >D25</text>
<path d="M1074.9,1689.7V1921.7M1074.9,1921.7H1419.8" stroke="#000" stroke-width="2.3" fill="none"/>
<line x1="1065.4" y1="1921.7" x2="1074.9" y2="1921.7" stroke="#000" stroke-width="2.3" />
<text transform="translate(1037.65,1928.2) scale(0.95,1)" font-size="18.3" font-weight="bold" fill="#000">0.0</text>
<line x1="1065.4" y1="1864" x2="1074.9" y2="1864" stroke="#000" stroke-width="2.3" />
<text transform="translate(1037.42,1870.5) scale(0.95,1)" font-size="18.3" font-weight="bold" fill="#000">0.5</text>
<line x1="1065.4" y1="1806.3" x2="1074.9" y2="1806.3" stroke="#000" stroke-width="2.3" />
<text transform="translate(1037.65,1812.8) scale(0.95,1)" font-size="18.3" font-weight="bold" fill="#000">1.0</text>
<line x1="1065.4" y1="1748.6" x2="1074.9" y2="1748.6" stroke="#000" stroke-width="2.3" />
<text transform="translate(1037.42,1755.1) scale(0.95,1)" font-size="18.3" font-weight="bold" fill="#000">1.5</text>
<line x1="1065.4" y1="1690.9" x2="1074.9" y2="1690.9" stroke="#000" stroke-width="2.3" />
<text transform="translate(1037.65,1697.4) scale(0.95,1)" font-size="18.3" font-weight="bold" fill="#000">2.0</text>
<line x1="1074.9" y1="1921.7" x2="1074.9" y2="1931.5" stroke="#000" stroke-width="2.3" />
<text transform="translate(1060.15,1950) scale(0.95,1)" font-size="18.3" font-weight="bold" fill="#000">200</text>
<line x1="1124" y1="1921.7" x2="1124" y2="1926.7" stroke="#000" stroke-width="2.3" />
<line x1="1173.1" y1="1921.7" x2="1173.1" y2="1931.5" stroke="#000" stroke-width="2.3" />
<text transform="translate(1158.52,1950) scale(0.95,1)" font-size="18.3" font-weight="bold" fill="#000">400</text>
<line x1="1222.2" y1="1921.7" x2="1222.2" y2="1926.7" stroke="#000" stroke-width="2.3" />
<line x1="1271.3" y1="1921.7" x2="1271.3" y2="1931.5" stroke="#000" stroke-width="2.3" />
<text transform="translate(1256.54,1950) scale(0.95,1)" font-size="18.3" font-weight="bold" fill="#000">600</text>
<line x1="1320.4" y1="1921.7" x2="1320.4" y2="1926.7" stroke="#000" stroke-width="2.3" />
<line x1="1369.5" y1="1921.7" x2="1369.5" y2="1931.5" stroke="#000" stroke-width="2.3" />
<text transform="translate(1354.78,1950) scale(0.95,1)" font-size="18.3" font-weight="bold" fill="#000">800</text>
<line x1="1418.6" y1="1921.7" x2="1418.6" y2="1926.7" stroke="#000" stroke-width="2.3" />
<line x1="1241.84" y1="1690.9" x2="1241.84" y2="1921.7" stroke="#000" stroke-width="1.7" stroke-dasharray="1.8 5.1"/>
<path d="M1093.56,1921.7C1094.95,1918.82 1098.88,1911.31 1101.91,1904.39C1104.93,1897.47 1106.65,1890.73 1111.73,1880.16C1116.8,1869.58 1124.98,1850.73 1132.35,1840.92C1139.71,1831.11 1147.57,1826.69 1155.92,1821.3C1164.26,1815.92 1173.1,1811.88 1182.43,1808.61C1191.76,1805.34 1201.99,1803.61 1211.89,1801.68C1221.79,1799.76 1233,1798.03 1241.84,1797.07C1250.68,1796.11 1259.84,1795.34 1264.92,1795.91C1269.99,1796.49 1267.37,1800.34 1272.28,1800.53C1277.19,1800.72 1283.08,1797.84 1294.38,1797.07C1305.67,1796.3 1324.33,1796.3 1340.04,1795.91C1355.75,1795.53 1380.55,1794.95 1388.65,1794.76" fill="none" stroke="#4E5AB5" stroke-width="4.3" stroke-dasharray="5.4 10.9" stroke-linecap="round"/>
<path d="M1093.56,1921.7C1094.95,1917.47 1098.88,1905.35 1101.91,1896.31C1104.93,1887.27 1107.14,1879 1111.73,1867.46C1116.31,1855.92 1123.02,1838.8 1129.4,1827.07C1135.78,1815.34 1142.17,1805.92 1150.02,1797.07C1157.88,1788.22 1167.21,1780.34 1176.54,1773.99C1185.87,1767.64 1195.11,1763.41 1206,1758.99C1216.88,1754.56 1232.02,1749.56 1241.84,1747.45C1251.66,1745.33 1260.09,1745.91 1264.92,1746.29C1269.75,1746.68 1265.9,1749.56 1270.81,1749.75C1275.72,1749.95 1282.84,1748.02 1294.38,1747.45C1305.92,1746.87 1324.82,1746.68 1340.04,1746.29C1355.26,1745.91 1378.09,1745.33 1385.7,1745.14" fill="none" stroke="#F68B28" stroke-width="4.3" stroke-dasharray="5.4 10.9" stroke-linecap="round"/>
<path d="M1093.56,1921.7C1097.57,1921.12 1103.79,1919.32 1117.62,1918.24C1131.45,1917.16 1155.83,1916.01 1176.54,1915.24C1197.24,1914.47 1225.88,1913.31 1241.84,1913.62C1257.8,1913.93 1263.53,1917.08 1272.28,1917.08C1281.04,1917.08 1274.98,1914.39 1294.38,1913.62C1313.77,1912.85 1372.94,1912.66 1388.65,1912.47" fill="none" stroke="#8C4BA6" stroke-width="4.3" stroke-dasharray="5.4 10.9" stroke-linecap="round"/>
<text transform="translate(1216.37,1977.8) scale(0.98,1)" font-size="19.2" font-weight="bold" fill="#000">time(s)</text>
<text transform="translate(1026.8,1826.6) rotate(-90) scale(0.87,1)" font-size="20.93" font-weight="bold" fill="#000">mAu</text>
<text transform="translate(278.85,2057.73) scale(1.05,1)" font-size="27.82" font-weight="bold" fill="#000" >DS7</text>
<path d="M135.4,2089.1V2320.4M135.4,2320.4H481.7" stroke="#000" stroke-width="2.3" fill="none"/>
<line x1="125.9" y1="2320.4" x2="135.4" y2="2320.4" stroke="#000" stroke-width="2.3" />
<text transform="translate(99.65,2326.9) scale(0.95,1)" font-size="18.3" font-weight="bold" fill="#000">0.0</text>
<line x1="125.9" y1="2262.88" x2="135.4" y2="2262.88" stroke="#000" stroke-width="2.3" />
<text transform="translate(99.42,2269.38) scale(0.95,1)" font-size="18.3" font-weight="bold" fill="#000">0.5</text>
<line x1="125.9" y1="2205.35" x2="135.4" y2="2205.35" stroke="#000" stroke-width="2.3" />
<text transform="translate(99.65,2211.85) scale(0.95,1)" font-size="18.3" font-weight="bold" fill="#000">1.0</text>
<line x1="125.9" y1="2147.83" x2="135.4" y2="2147.83" stroke="#000" stroke-width="2.3" />
<text transform="translate(99.42,2154.33) scale(0.95,1)" font-size="18.3" font-weight="bold" fill="#000">1.5</text>
<line x1="125.9" y1="2090.3" x2="135.4" y2="2090.3" stroke="#000" stroke-width="2.3" />
<text transform="translate(99.65,2096.8) scale(0.95,1)" font-size="18.3" font-weight="bold" fill="#000">2.0</text>
<line x1="135.4" y1="2320.4" x2="135.4" y2="2330.2" stroke="#000" stroke-width="2.3" />
<text transform="translate(120.65,2348.7) scale(0.95,1)" font-size="18.3" font-weight="bold" fill="#000">200</text>
<line x1="184.7" y1="2320.4" x2="184.7" y2="2325.4" stroke="#000" stroke-width="2.3" />
<line x1="234" y1="2320.4" x2="234" y2="2330.2" stroke="#000" stroke-width="2.3" />
<text transform="translate(219.42,2348.7) scale(0.95,1)" font-size="18.3" font-weight="bold" fill="#000">400</text>
<line x1="283.3" y1="2320.4" x2="283.3" y2="2325.4" stroke="#000" stroke-width="2.3" />
<line x1="332.6" y1="2320.4" x2="332.6" y2="2330.2" stroke="#000" stroke-width="2.3" />
<text transform="translate(317.84,2348.7) scale(0.95,1)" font-size="18.3" font-weight="bold" fill="#000">600</text>
<line x1="381.9" y1="2320.4" x2="381.9" y2="2325.4" stroke="#000" stroke-width="2.3" />
<line x1="431.2" y1="2320.4" x2="431.2" y2="2330.2" stroke="#000" stroke-width="2.3" />
<text transform="translate(416.48,2348.7) scale(0.95,1)" font-size="18.3" font-weight="bold" fill="#000">800</text>
<line x1="480.5" y1="2320.4" x2="480.5" y2="2325.4" stroke="#000" stroke-width="2.3" />
<line x1="303.02" y1="2090.3" x2="303.02" y2="2320.4" stroke="#000" stroke-width="1.7" stroke-dasharray="1.8 5.1"/>
<path d="M155.12,2320.4C157.09,2318.1 160.3,2311.39 166.95,2306.59C173.61,2301.8 184.78,2296.43 195.05,2291.64C205.32,2286.84 215.92,2282.24 228.58,2277.83C241.23,2273.42 258.57,2268.63 270.98,2265.18C283.38,2261.72 291.35,2258.08 303.02,2257.12C314.69,2256.16 326.19,2258.85 340.98,2259.42C355.77,2260 373.68,2260.38 391.76,2260.57C409.84,2260.77 439.83,2260.57 449.44,2260.57" fill="none" stroke="#4E5AB5" stroke-width="4.3" stroke-dasharray="5.4 10.9" stroke-linecap="round"/>
<path d="M155.12,2320.4C157.59,2320.11 156.76,2319.15 169.91,2318.67C183.06,2318.19 211.81,2318 234,2317.52C256.19,2317.04 284.94,2315.99 303.02,2315.8C321.1,2315.61 317.81,2316.28 342.46,2316.37C367.11,2316.47 432.84,2316.37 450.92,2316.37" fill="none" stroke="#F68B28" stroke-width="4.3" stroke-dasharray="5.4 10.9" stroke-linecap="round"/>
<path d="M155.12,2320.4C156.35,2317.52 159.64,2308.7 162.52,2303.14C165.39,2297.58 166.95,2292.98 172.38,2287.04C177.8,2281.09 185.69,2273.04 195.05,2267.48C204.42,2261.92 215.92,2257.51 228.58,2253.67C241.23,2249.84 258.57,2246.38 270.98,2244.47C283.38,2242.55 291.35,2242.36 303.02,2242.17C314.69,2241.97 326.19,2242.93 340.98,2243.32C355.77,2243.7 373.68,2244.28 391.76,2244.47C409.84,2244.66 439.83,2244.47 449.44,2244.47" fill="none" stroke="#8C4BA6" stroke-width="4.3" stroke-dasharray="5.4 10.9" stroke-linecap="round"/>
<text transform="translate(277.77,2376.5) scale(0.98,1)" font-size="19.2" font-weight="bold" fill="#000">time(s)</text>
<text transform="translate(87.3,2225.65) rotate(-90) scale(0.87,1)" font-size="20.93" font-weight="bold" fill="#000">mAu</text>
<text transform="translate(710.79,2057.73) scale(1.03,1)" font-size="27.82" font-weight="bold" fill="#000" >MPV481</text>
<path d="M594.9,2089.1V2321M594.9,2321H941.2" stroke="#000" stroke-width="2.3" fill="none"/>
<line x1="585.4" y1="2321" x2="594.9" y2="2321" stroke="#000" stroke-width="2.3" />
<text transform="translate(557.75,2327.5) scale(0.95,1)" font-size="18.3" font-weight="bold" fill="#000">0.0</text>
<line x1="585.4" y1="2263.32" x2="594.9" y2="2263.32" stroke="#000" stroke-width="2.3" />
<text transform="translate(557.52,2269.82) scale(0.95,1)" font-size="18.3" font-weight="bold" fill="#000">0.5</text>
<line x1="585.4" y1="2205.65" x2="594.9" y2="2205.65" stroke="#000" stroke-width="2.3" />
<text transform="translate(557.75,2212.15) scale(0.95,1)" font-size="18.3" font-weight="bold" fill="#000">1.0</text>
<line x1="585.4" y1="2147.98" x2="594.9" y2="2147.98" stroke="#000" stroke-width="2.3" />
<text transform="translate(557.52,2154.48) scale(0.95,1)" font-size="18.3" font-weight="bold" fill="#000">1.5</text>
<line x1="585.4" y1="2090.3" x2="594.9" y2="2090.3" stroke="#000" stroke-width="2.3" />
<text transform="translate(557.75,2096.8) scale(0.95,1)" font-size="18.3" font-weight="bold" fill="#000">2.0</text>
<line x1="594.9" y1="2321" x2="594.9" y2="2330.8" stroke="#000" stroke-width="2.3" />
<text transform="translate(580.15,2349.3) scale(0.95,1)" font-size="18.3" font-weight="bold" fill="#000">200</text>
<line x1="644.2" y1="2321" x2="644.2" y2="2326" stroke="#000" stroke-width="2.3" />
<line x1="693.5" y1="2321" x2="693.5" y2="2330.8" stroke="#000" stroke-width="2.3" />
<text transform="translate(678.92,2349.3) scale(0.95,1)" font-size="18.3" font-weight="bold" fill="#000">400</text>
<line x1="742.8" y1="2321" x2="742.8" y2="2326" stroke="#000" stroke-width="2.3" />
<line x1="792.1" y1="2321" x2="792.1" y2="2330.8" stroke="#000" stroke-width="2.3" />
<text transform="translate(777.34,2349.3) scale(0.95,1)" font-size="18.3" font-weight="bold" fill="#000">600</text>
<line x1="841.4" y1="2321" x2="841.4" y2="2326" stroke="#000" stroke-width="2.3" />
<line x1="890.7" y1="2321" x2="890.7" y2="2330.8" stroke="#000" stroke-width="2.3" />
<text transform="translate(875.98,2349.3) scale(0.95,1)" font-size="18.3" font-weight="bold" fill="#000">800</text>
<line x1="940" y1="2321" x2="940" y2="2326" stroke="#000" stroke-width="2.3" />
<line x1="762.52" y1="2090.3" x2="762.52" y2="2321" stroke="#000" stroke-width="1.7" stroke-dasharray="1.8 5.1"/>
<path d="M614.62,2321C616.26,2316.77 620.62,2303.51 624.48,2295.62C628.34,2287.74 630.89,2282.55 637.79,2273.71C644.69,2264.86 657.51,2249.87 665.89,2242.56C674.27,2235.26 677.31,2234.68 688.08,2229.87C698.84,2225.07 718.15,2217.38 730.47,2213.72C742.8,2210.07 750.28,2208.92 762.03,2207.96C773.78,2207 786.1,2207.96 800.97,2207.96C815.85,2207.96 833.02,2208.15 851.26,2207.96C869.5,2207.76 900.56,2207 910.42,2206.8" fill="none" stroke="#4E5AB5" stroke-width="4.3" stroke-dasharray="5.4 10.9" stroke-linecap="round"/>
<path d="M614.62,2321C617.09,2320.81 616.26,2320.13 629.41,2319.85C642.56,2319.56 674.6,2319.65 693.5,2319.27C712.4,2318.89 731.3,2317.64 742.8,2317.54C754.3,2317.44 746.09,2318.5 762.52,2318.69C778.95,2318.89 816.75,2318.69 841.4,2318.69C866.05,2318.69 898.92,2318.69 910.42,2318.69" fill="none" stroke="#F68B28" stroke-width="4.3" stroke-dasharray="5.4 10.9" stroke-linecap="round"/>
<path d="M614.62,2321C616.26,2316.96 620.62,2304.27 624.48,2296.78C628.34,2289.28 630.89,2283.7 637.79,2276.01C644.69,2268.32 656.52,2257.17 665.89,2250.64C675.26,2244.1 683.23,2241.22 693.99,2236.79C704.76,2232.37 719.14,2227.37 730.47,2224.11C741.81,2220.84 750.28,2218.92 762.03,2217.18C773.78,2215.45 786.1,2214.3 800.97,2213.72C815.85,2213.15 833.51,2213.72 851.26,2213.72C869.01,2213.72 898.1,2213.72 907.46,2213.72" fill="none" stroke="#8C4BA6" stroke-width="4.3" stroke-dasharray="5.4 10.9" stroke-linecap="round"/>
<text transform="translate(736.37,2377.1) scale(0.98,1)" font-size="19.2" font-weight="bold" fill="#000">time(s)</text>
<text transform="translate(546.8,2225.95) rotate(-90) scale(0.87,1)" font-size="20.93" font-weight="bold" fill="#000">mAu</text>
<text transform="translate(1211.77,2058.01) scale(0.98,1)" font-size="29.52" font-weight="bold" fill="#000" >Mota</text>
<path d="M1074.9,2088.9V2320.6M1074.9,2320.6H1419.8" stroke="#000" stroke-width="2.3" fill="none"/>
<line x1="1065.4" y1="2320.6" x2="1074.9" y2="2320.6" stroke="#000" stroke-width="2.3" />
<text transform="translate(1037.65,2327.1) scale(0.95,1)" font-size="18.3" font-weight="bold" fill="#000">0.0</text>
<line x1="1065.4" y1="2262.97" x2="1074.9" y2="2262.97" stroke="#000" stroke-width="2.3" />
<text transform="translate(1037.42,2269.47) scale(0.95,1)" font-size="18.3" font-weight="bold" fill="#000">0.5</text>
<line x1="1065.4" y1="2205.35" x2="1074.9" y2="2205.35" stroke="#000" stroke-width="2.3" />
<text transform="translate(1037.65,2211.85) scale(0.95,1)" font-size="18.3" font-weight="bold" fill="#000">1.0</text>
<line x1="1065.4" y1="2147.72" x2="1074.9" y2="2147.72" stroke="#000" stroke-width="2.3" />
<text transform="translate(1037.42,2154.22) scale(0.95,1)" font-size="18.3" font-weight="bold" fill="#000">1.5</text>
<line x1="1065.4" y1="2090.1" x2="1074.9" y2="2090.1" stroke="#000" stroke-width="2.3" />
<text transform="translate(1037.65,2096.6) scale(0.95,1)" font-size="18.3" font-weight="bold" fill="#000">2.0</text>
<line x1="1074.9" y1="2320.6" x2="1074.9" y2="2330.4" stroke="#000" stroke-width="2.3" />
<text transform="translate(1060.15,2348.9) scale(0.95,1)" font-size="18.3" font-weight="bold" fill="#000">200</text>
<line x1="1124" y1="2320.6" x2="1124" y2="2325.6" stroke="#000" stroke-width="2.3" />
<line x1="1173.1" y1="2320.6" x2="1173.1" y2="2330.4" stroke="#000" stroke-width="2.3" />
<text transform="translate(1158.52,2348.9) scale(0.95,1)" font-size="18.3" font-weight="bold" fill="#000">400</text>
<line x1="1222.2" y1="2320.6" x2="1222.2" y2="2325.6" stroke="#000" stroke-width="2.3" />
<line x1="1271.3" y1="2320.6" x2="1271.3" y2="2330.4" stroke="#000" stroke-width="2.3" />
<text transform="translate(1256.54,2348.9) scale(0.95,1)" font-size="18.3" font-weight="bold" fill="#000">600</text>
<line x1="1320.4" y1="2320.6" x2="1320.4" y2="2325.6" stroke="#000" stroke-width="2.3" />
<line x1="1369.5" y1="2320.6" x2="1369.5" y2="2330.4" stroke="#000" stroke-width="2.3" />
<text transform="translate(1354.78,2348.9) scale(0.95,1)" font-size="18.3" font-weight="bold" fill="#000">800</text>
<line x1="1418.6" y1="2320.6" x2="1418.6" y2="2325.6" stroke="#000" stroke-width="2.3" />
<line x1="1241.84" y1="2090.1" x2="1241.84" y2="2320.6" stroke="#000" stroke-width="1.7" stroke-dasharray="1.8 5.1"/>
<path d="M1093.56,2320.6C1094.95,2314.84 1098.88,2298.7 1101.91,2286.03C1104.93,2273.35 1107.14,2257.98 1111.73,2244.53C1116.31,2231.09 1123.51,2215.34 1129.4,2205.35C1135.29,2195.36 1139.22,2190.37 1147.08,2184.61C1154.93,2178.84 1166.72,2174.62 1176.54,2170.78C1186.36,2166.93 1195.11,2163.67 1206,2161.55C1216.88,2159.44 1227.11,2158.67 1241.84,2158.1C1256.57,2157.52 1279.73,2158.29 1294.38,2158.1C1309.03,2157.91 1320.89,2156.56 1329.73,2156.94C1338.57,2157.33 1338.57,2159.83 1347.41,2160.4C1356.24,2160.98 1375.88,2160.98 1382.76,2160.4C1389.63,2159.83 1387.67,2157.52 1388.65,2156.94" fill="none" stroke="#4E5AB5" stroke-width="4.3" stroke-dasharray="5.4 10.9" stroke-linecap="round"/>
<path d="M1093.56,2320.6C1094.95,2315.22 1098.88,2299.66 1101.91,2288.33C1104.93,2277 1108.12,2264.9 1111.73,2252.6C1115.33,2240.31 1118.6,2226.86 1123.51,2214.57C1128.42,2202.28 1133.82,2189.21 1141.19,2178.84C1148.55,2168.47 1156.9,2160.59 1167.7,2152.34C1178.5,2144.08 1193.64,2135.82 1206,2129.28C1218.35,2122.75 1227.11,2115.84 1241.84,2113.15C1256.57,2110.46 1279.73,2113.34 1294.38,2113.15C1309.03,2112.96 1320.89,2111.81 1329.73,2112C1338.57,2112.19 1337.59,2114.11 1347.41,2114.3C1357.23,2114.49 1381.78,2113.34 1388.65,2113.15" fill="none" stroke="#F68B28" stroke-width="4.3" stroke-dasharray="5.4 10.9" stroke-linecap="round"/>
<path d="M1093.56,2320.6C1098.63,2320.22 1109.11,2319.06 1124,2318.3C1138.89,2317.53 1163.28,2316.76 1182.92,2315.99C1202.56,2315.22 1227.11,2313.88 1241.84,2313.68C1256.57,2313.49 1256.57,2315.03 1271.3,2314.84C1286.03,2314.65 1317.54,2312.53 1330.22,2312.53C1342.9,2312.53 1337.67,2314.74 1347.41,2314.84C1357.14,2314.93 1381.78,2313.4 1388.65,2313.11" fill="none" stroke="#8C4BA6" stroke-width="4.3" stroke-dasharray="5.4 10.9" stroke-linecap="round"/>
<text transform="translate(1216.37,2376.7) scale(0.98,1)" font-size="19.2" font-weight="bold" fill="#000">time(s)</text>
<text transform="translate(1026.8,2225.65) rotate(-90) scale(0.87,1)" font-size="20.93" font-weight="bold" fill="#000">mAu</text>
</svg></body></html>
